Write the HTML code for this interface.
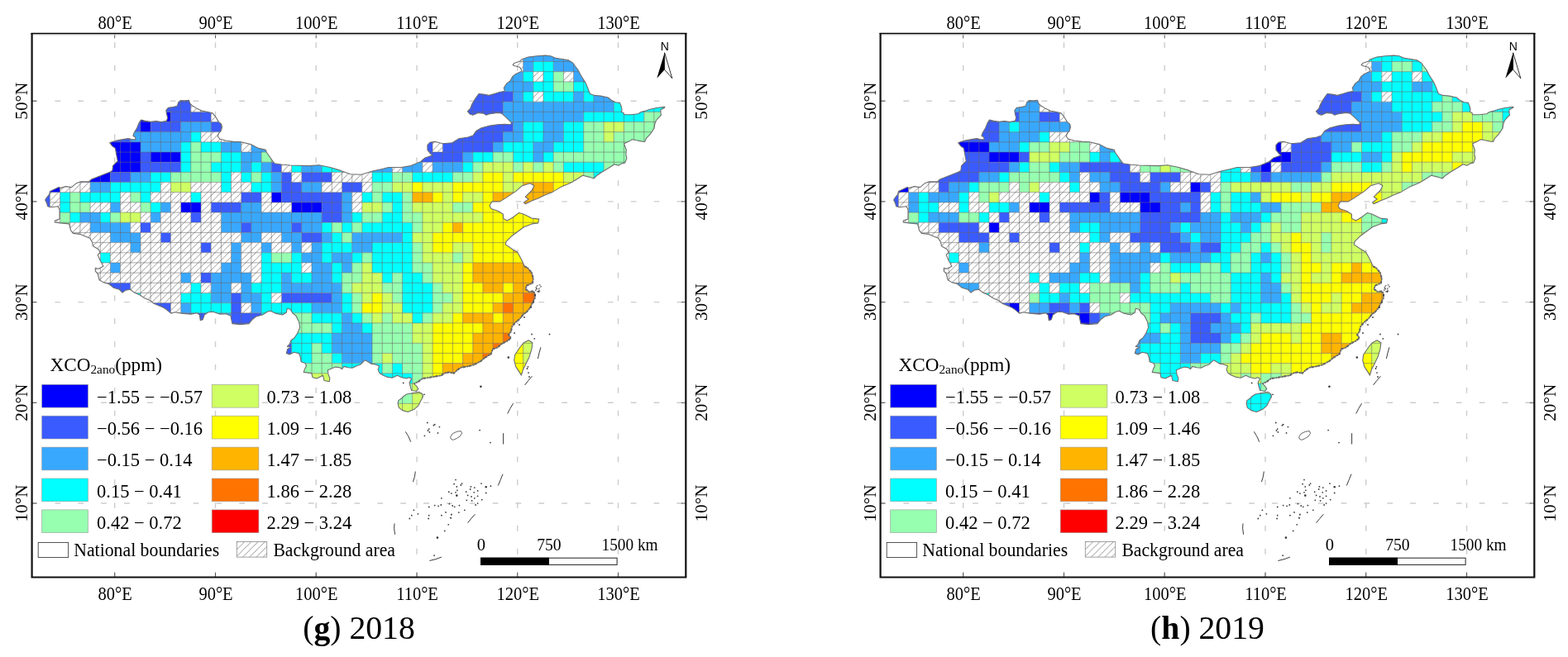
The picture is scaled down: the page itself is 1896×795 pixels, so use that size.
<!DOCTYPE html>
<html lang="en"><head><meta charset="utf-8"><title>XCO2 anomaly maps 2018-2019</title>
<style>
html,body{margin:0;padding:0;background:#fff}
body{width:1896px;height:795px;overflow:hidden;position:relative;font-family:"Liberation Serif","Times New Roman",serif;color:#000}
svg{position:absolute;left:0;top:0}
text{font-family:"Liberation Serif","Times New Roman",serif;fill:#000}
.t{font-size:22.4px}
.v{font-size:21.2px}
.l{font-size:22.5px}
.s{font-size:20.5px}
.c{font-size:39.7px}
.n{font-family:"Liberation Sans",Arial,sans-serif;font-size:14px}
</style></head><body>
<svg width="1896" height="795" viewBox="0 0 1896 795">
<defs>
<pattern id="hatch" patternUnits="userSpaceOnUse" width="8.2" height="8.2"><rect width="8.2" height="8.2" fill="#fff"/><path d="M-1 9.2L9.2 -1M-1 1L1 -1M7.2 9.2L9.2 7.2" stroke="#777" stroke-width="0.8" fill="none"/></pattern>
<clipPath id="clip"><path d="M132.6 172.7L139.7 170.2L147.4 168.9L155.1 167.6L159.6 168.9L164.1 168.9L163.5 165.7L160.9 164.4L162.2 160.5L165.4 155.4L168 148.9L170.5 145.1L175.7 146.4L182.1 147.4L188.6 146.6L195 147.6L201.4 146.4L202.7 142.5L201.4 137.3L200.8 133.5L203.4 130.3L209.2 129.6L214.3 128.3L215.6 123.8L218.2 121.6L223.3 121.9L228.5 121.3L229.7 125.1L232.3 127.7L237.5 130.9L243.9 134.1L250.3 135.4L256.8 136.7L260.6 141.2L264.5 147.6L267.7 150.2L268.4 154.1L267.1 158.6L264.5 161.2L263.2 165L265.8 168.2L273.5 170.2L282.5 171.4L291.5 171.7L303 174.6L312.7 179.4L321.3 181.4L322.3 184.3L329 193.9L331.9 197.7L341.5 199.3L351.2 200L374.3 200.6L385.8 199.7L399.3 202.5L412 206.4L423.6 210.8L437 211.2L450.5 207L462.1 204.5L469.8 202.5L485.2 202.5L496.7 200.6L508.3 195.8L514 191L522.7 188.1L519.8 185.2L516.9 181.4L516.9 175.6L519.8 172.3L525.6 171.2L535.2 173.7L546.8 172.7L554.5 167.9L566 166L571.9 164.1L575.7 158.5L582.2 154.7L592.5 152.1L601.5 150.8L610.5 150.2L616.9 150.8L618.8 148.9L615.6 145.6L611.8 141.8L606.6 137.3L601.5 136.4L596.3 137.3L591.2 137.9L588 139.2L584.7 137.3L578.3 136.6L571.9 139.2L568 137.9L565.4 134.7L568.7 131.5L570.6 126.3L574.4 119.9L578.9 113.5L584.7 114.1L591.2 115.4L597.6 113.5L604 111.5L610.5 110.3L609.2 106.4L613.1 100.6L616.9 98L619.5 92.9L623.3 89.7L629.1 87.1L631.1 85.8L628.5 81.3L623.3 80L620.1 78.7L622.1 76.2L628.5 74.2L631.1 71.7L638.8 69.1L649.1 67.8L659.4 67.1L665.8 67.8L672.2 70.4L681.3 71.7L687.7 72.9L692.8 76.2L695.4 80L699.3 85.2L701.8 90.3L705.1 95.5L708.3 100.6L710.9 107L713.4 113.5L718.6 115.4L726.3 116.1L735.3 118L739.2 121.2L744.3 123.8L749.5 124.4L750.8 127.6L752 132.1L751.4 135.4L754 136.6L754.6 138.8L762.9 138.8L771.7 137.7L775.1 135.5L779.5 134.4L786.1 132.2L793.9 130.5L803.9 129.4L803.3 130.5L798.9 132.7L798.9 136L799.4 139.4L796.1 142.7L793.3 146L791.7 150.4L791.1 154.9L788.4 159.3L785 163.7L781.7 167.1L779.5 171.5L775.1 170.9L769.5 169.8L764.5 168.7L761.8 170.4L758.4 172L754.6 173.7L755.7 177L757.3 181.5L756.8 187L757.9 191.4L755.7 197L751.2 198.1L747.9 200.3L743.1 198.7L737.3 202.5L727.7 208.3L721.9 212.2L718.1 216L712.3 214.1L704.6 212.2L698.8 216L691.1 220.8L677.7 226.6L668 232.4L658.4 236.2L650.7 240.1L643 243L635.3 246.8L633.4 244.9L639.2 241L635.3 238.2L643 230.5L645.9 224.7L641.1 221.8L631.5 224.7L623.8 231.4L612.2 239.1L604.5 243.9L594.9 243.9L592 248.7L593.9 252.6L602.6 255.5L608.4 259.3L608.4 264.1L613.2 267L619.9 263.2L627.6 257.4L633.4 259.3L643 264.1L651.7 265.1L650.7 269.9L643 270.9L633.4 274.7L625.7 280.5L618 286.3L612.2 292.1L611.2 295.9L619.9 301.7L625.6 305L630.4 313.7L634.3 322.3L638.1 324.3L642.9 330L644.8 336.8L643.9 342.5L637.1 345.4L635.2 349.7L640 353.1L644.8 352.4L647 355.4L646.8 360.8L643.9 366.6L641 372.4L637.1 377.2L632.3 381L628.5 385.9L623.7 389.7L618.9 395.5L617.9 401.3L615 405.1L617.9 409L613.1 412.8L607.3 415.7L601.5 420.5L595.8 422.4L593.8 428.2L586.1 433L580.4 437.8L580 437.7L572.9 441.5L565.3 443.4L557.7 444.7L552.7 447.8L548.9 451.6L542.5 450.4L537.5 451.6L533.7 454.2L527.3 455.4L519.7 456.7L510.9 458L505.8 461.8L500.8 464.3L503.3 466.8L505.8 470.6L503.3 473.2L497.6 472.5L496.3 468.1L495.1 463L497.6 458L494.4 456.7L491.9 458L485.6 456.7L480.5 454.2L474.2 457.3L467.8 456.1L463.4 454.2L459 451.6L457.1 447.2L458.4 442.8L453.9 440.9L448.9 440.3L445.1 437.7L441.3 435.8L436.2 440.9L431.1 442.8L426.1 445.3L421 444.7L415.9 443.4L413.4 446.6L410.9 444.7L405.8 444.1L400.8 445.9L396.3 447.8L397 452.9L398.9 458L398.2 461.8L391.9 460.5L390.6 454.2L388.1 455.4L383 458L378 456.7L376.7 451.6L367.2 450.4L368.5 446.6L370.4 442.8L369.1 439.6L364.1 437.7L363.4 432.7L361.5 427.6L355.2 426.3L350.1 428.9L346.3 427.6L347.6 422.5L352 420L347.2 419.5L350.1 416.7L352 411.8L355.9 409L359.7 403.2L362.6 396.4L361.7 389.7L357.8 382L354 379.1L351.1 374.3L347.2 373.3L346.3 378.2L341.5 381L332.8 379.1L327 376.2L323.2 377.2L317.4 381L309.7 383L304.9 386.8L301 391.6L290.4 392.6L280.8 391.6L278.9 382L273.1 379.7L265.4 380.1L257.7 377.2L251.9 377.8L247.1 381L245.2 386.8L242.3 387.8L241.3 381L238.5 378.7L230.8 380.1L219.2 379.1L211.5 377.8L206.7 379.1L200.9 374.3L196.1 371.4L186.5 367.6L181.7 363.7L174.9 360.8L169.2 357L162.4 354.1L157.6 350.2L151.8 351.2L148 354.1L144.1 350.2L137.4 348.3L131.6 343.5L124.9 341.6L120.1 338.7L118.1 331L115.3 328.1L115.3 324.3L119.1 325.2L124.9 322.3L123 318.5L121.1 315.2L118.2 308.4L121.1 305.5L119.2 301.7L112.5 297.8L111.5 293L108.6 288.2L97.1 283.4L88.4 282.4L85.5 278.6L83.6 270.9L73 269.9L66.3 269L66.3 267L72 265.1L72 253.6L70.1 249.7L61.4 250.7L57.6 249.7L56.6 245.9L54.7 242L55.7 240.1L59.5 235.3L60.5 231.4L71.1 226.6L73 227.6L79.7 225.6L86.5 226.6L92.2 221.8L97.1 219.9L107.6 219.9L110.5 217L132.7 208.3L135.9 206.4L136.5 200.6L142.3 194.8L141.3 190L139.4 179.4L135.6 176.6L132.7 172.7ZM639.1 411.8L643.9 414.7L642.9 422.4L640 432.1L635.2 441.7L632.3 447.5L630.4 454.2L627.5 449.4L623.7 443.6L621.7 435.9L622.7 429.2L628.5 420.5L633.3 414.7ZM491.9 477L498.2 475.7L507.1 474.4L510.9 477L511.5 480.1L509 484.6L505.8 490.9L500.8 495.3L493.2 498.5L486.8 496.6L482.4 493.4L481.1 488.4L481.8 484.6L485.6 482L488.1 479.5Z"/></clipPath>
<path id="outline" d="M132.6 172.7L139.7 170.2L147.4 168.9L155.1 167.6L159.6 168.9L164.1 168.9L163.5 165.7L160.9 164.4L162.2 160.5L165.4 155.4L168 148.9L170.5 145.1L175.7 146.4L182.1 147.4L188.6 146.6L195 147.6L201.4 146.4L202.7 142.5L201.4 137.3L200.8 133.5L203.4 130.3L209.2 129.6L214.3 128.3L215.6 123.8L218.2 121.6L223.3 121.9L228.5 121.3L229.7 125.1L232.3 127.7L237.5 130.9L243.9 134.1L250.3 135.4L256.8 136.7L260.6 141.2L264.5 147.6L267.7 150.2L268.4 154.1L267.1 158.6L264.5 161.2L263.2 165L265.8 168.2L273.5 170.2L282.5 171.4L291.5 171.7L303 174.6L312.7 179.4L321.3 181.4L322.3 184.3L329 193.9L331.9 197.7L341.5 199.3L351.2 200L374.3 200.6L385.8 199.7L399.3 202.5L412 206.4L423.6 210.8L437 211.2L450.5 207L462.1 204.5L469.8 202.5L485.2 202.5L496.7 200.6L508.3 195.8L514 191L522.7 188.1L519.8 185.2L516.9 181.4L516.9 175.6L519.8 172.3L525.6 171.2L535.2 173.7L546.8 172.7L554.5 167.9L566 166L571.9 164.1L575.7 158.5L582.2 154.7L592.5 152.1L601.5 150.8L610.5 150.2L616.9 150.8L618.8 148.9L615.6 145.6L611.8 141.8L606.6 137.3L601.5 136.4L596.3 137.3L591.2 137.9L588 139.2L584.7 137.3L578.3 136.6L571.9 139.2L568 137.9L565.4 134.7L568.7 131.5L570.6 126.3L574.4 119.9L578.9 113.5L584.7 114.1L591.2 115.4L597.6 113.5L604 111.5L610.5 110.3L609.2 106.4L613.1 100.6L616.9 98L619.5 92.9L623.3 89.7L629.1 87.1L631.1 85.8L628.5 81.3L623.3 80L620.1 78.7L622.1 76.2L628.5 74.2L631.1 71.7L638.8 69.1L649.1 67.8L659.4 67.1L665.8 67.8L672.2 70.4L681.3 71.7L687.7 72.9L692.8 76.2L695.4 80L699.3 85.2L701.8 90.3L705.1 95.5L708.3 100.6L710.9 107L713.4 113.5L718.6 115.4L726.3 116.1L735.3 118L739.2 121.2L744.3 123.8L749.5 124.4L750.8 127.6L752 132.1L751.4 135.4L754 136.6L754.6 138.8L762.9 138.8L771.7 137.7L775.1 135.5L779.5 134.4L786.1 132.2L793.9 130.5L803.9 129.4L803.3 130.5L798.9 132.7L798.9 136L799.4 139.4L796.1 142.7L793.3 146L791.7 150.4L791.1 154.9L788.4 159.3L785 163.7L781.7 167.1L779.5 171.5L775.1 170.9L769.5 169.8L764.5 168.7L761.8 170.4L758.4 172L754.6 173.7L755.7 177L757.3 181.5L756.8 187L757.9 191.4L755.7 197L751.2 198.1L747.9 200.3L743.1 198.7L737.3 202.5L727.7 208.3L721.9 212.2L718.1 216L712.3 214.1L704.6 212.2L698.8 216L691.1 220.8L677.7 226.6L668 232.4L658.4 236.2L650.7 240.1L643 243L635.3 246.8L633.4 244.9L639.2 241L635.3 238.2L643 230.5L645.9 224.7L641.1 221.8L631.5 224.7L623.8 231.4L612.2 239.1L604.5 243.9L594.9 243.9L592 248.7L593.9 252.6L602.6 255.5L608.4 259.3L608.4 264.1L613.2 267L619.9 263.2L627.6 257.4L633.4 259.3L643 264.1L651.7 265.1L650.7 269.9L643 270.9L633.4 274.7L625.7 280.5L618 286.3L612.2 292.1L611.2 295.9L619.9 301.7L625.6 305L630.4 313.7L634.3 322.3L638.1 324.3L642.9 330L644.8 336.8L643.9 342.5L637.1 345.4L635.2 349.7L640 353.1L644.8 352.4L647 355.4L646.8 360.8L643.9 366.6L641 372.4L637.1 377.2L632.3 381L628.5 385.9L623.7 389.7L618.9 395.5L617.9 401.3L615 405.1L617.9 409L613.1 412.8L607.3 415.7L601.5 420.5L595.8 422.4L593.8 428.2L586.1 433L580.4 437.8L580 437.7L572.9 441.5L565.3 443.4L557.7 444.7L552.7 447.8L548.9 451.6L542.5 450.4L537.5 451.6L533.7 454.2L527.3 455.4L519.7 456.7L510.9 458L505.8 461.8L500.8 464.3L503.3 466.8L505.8 470.6L503.3 473.2L497.6 472.5L496.3 468.1L495.1 463L497.6 458L494.4 456.7L491.9 458L485.6 456.7L480.5 454.2L474.2 457.3L467.8 456.1L463.4 454.2L459 451.6L457.1 447.2L458.4 442.8L453.9 440.9L448.9 440.3L445.1 437.7L441.3 435.8L436.2 440.9L431.1 442.8L426.1 445.3L421 444.7L415.9 443.4L413.4 446.6L410.9 444.7L405.8 444.1L400.8 445.9L396.3 447.8L397 452.9L398.9 458L398.2 461.8L391.9 460.5L390.6 454.2L388.1 455.4L383 458L378 456.7L376.7 451.6L367.2 450.4L368.5 446.6L370.4 442.8L369.1 439.6L364.1 437.7L363.4 432.7L361.5 427.6L355.2 426.3L350.1 428.9L346.3 427.6L347.6 422.5L352 420L347.2 419.5L350.1 416.7L352 411.8L355.9 409L359.7 403.2L362.6 396.4L361.7 389.7L357.8 382L354 379.1L351.1 374.3L347.2 373.3L346.3 378.2L341.5 381L332.8 379.1L327 376.2L323.2 377.2L317.4 381L309.7 383L304.9 386.8L301 391.6L290.4 392.6L280.8 391.6L278.9 382L273.1 379.7L265.4 380.1L257.7 377.2L251.9 377.8L247.1 381L245.2 386.8L242.3 387.8L241.3 381L238.5 378.7L230.8 380.1L219.2 379.1L211.5 377.8L206.7 379.1L200.9 374.3L196.1 371.4L186.5 367.6L181.7 363.7L174.9 360.8L169.2 357L162.4 354.1L157.6 350.2L151.8 351.2L148 354.1L144.1 350.2L137.4 348.3L131.6 343.5L124.9 341.6L120.1 338.7L118.1 331L115.3 328.1L115.3 324.3L119.1 325.2L124.9 322.3L123 318.5L121.1 315.2L118.2 308.4L121.1 305.5L119.2 301.7L112.5 297.8L111.5 293L108.6 288.2L97.1 283.4L88.4 282.4L85.5 278.6L83.6 270.9L73 269.9L66.3 269L66.3 267L72 265.1L72 253.6L70.1 249.7L61.4 250.7L57.6 249.7L56.6 245.9L54.7 242L55.7 240.1L59.5 235.3L60.5 231.4L71.1 226.6L73 227.6L79.7 225.6L86.5 226.6L92.2 221.8L97.1 219.9L107.6 219.9L110.5 217L132.7 208.3L135.9 206.4L136.5 200.6L142.3 194.8L141.3 190L139.4 179.4L135.6 176.6L132.7 172.7ZM639.1 411.8L643.9 414.7L642.9 422.4L640 432.1L635.2 441.7L632.3 447.5L630.4 454.2L627.5 449.4L623.7 443.6L621.7 435.9L622.7 429.2L628.5 420.5L633.3 414.7ZM491.9 477L498.2 475.7L507.1 474.4L510.9 477L511.5 480.1L509 484.6L505.8 490.9L500.8 495.3L493.2 498.5L486.8 496.6L482.4 493.4L481.1 488.4L481.8 484.6L485.6 482L488.1 479.5Z" fill="none" stroke="#6e6e6e" stroke-width="1.1" stroke-linejoin="round"/>
<g id="rough"><path d="M634.3 322.3L638.1 324.3L642.9 330L644.8 336.8L643.9 342.5L637.1 345.4L635.2 349.7L640 353.1L644.8 352.4L647 355.4L646.8 360.8L643.9 366.6L641 372.4L637.1 377.2L632.3 381L628.5 385.9L623.7 389.7L618.9 395.5L617.9 401.3L615 405.1L617.9 409L613.1 412.8L607.3 415.7L601.5 420.5L595.8 422.4L593.8 428.2L586.1 433L580.4 437.8L580 437.7L572.9 441.5L565.3 443.4L557.7 444.7L552.7 447.8L548.9 451.6L542.5 450.4L537.5 451.6L533.7 454.2L527.3 455.4L519.7 456.7L510.9 458L505.8 461.8L500.8 464.3" fill="none" stroke="#666" stroke-width="2.1" stroke-dasharray="3 1.2 1.2 2" stroke-linejoin="round"/><path d="M648.7 346.4L651.6 344.5L654.5 345.4L653.5 348.3L650.6 349.7L652.5 352.2L648.7 353.1L647.4 350.8Z" fill="none" stroke="#666" stroke-width="1.2" stroke-dasharray="2 1.5"/></g>
</defs>
<rect width="1896" height="795" fill="#fff"/>
<g transform="translate(0 0)">
<path d="M138.7 698.5V40.8M260.5 698.5V40.8M382.2 698.5V40.8M504 698.5V40.8M625.7 698.5V40.8M747.5 698.5V40.8" fill="none" stroke="#cdcdcd" stroke-width="1.4" stroke-dasharray="6.8 21.05"/>
<path d="M38.6 609H829.3M38.6 487.3H829.3M38.6 365.6H829.3M38.6 243.9H829.3M38.6 122.2H829.3" fill="none" stroke="#cdcdcd" stroke-width="1.4" stroke-dasharray="6.8 21.05"/>
<g clip-path="url(#clip)">
<path d="M218.7 244.9h24.4v12.2h-24.4zM352.6 244.9h36.5v12.2h-36.5zM328.2 232.7h12.2v12.2h-12.2zM36 220.6h36.5v12.2h-36.5zM48.2 208.4h24.4v12.2h-24.4zM96.9 208.4h36.5v12.2h-36.5zM60.4 196.2h12.2v12.2h-12.2zM96.9 196.2h73.1v12.2h-73.1zM109.1 184.1h60.9v12.2h-60.9zM182.1 184.1h36.5v12.2h-36.5zM109.1 171.9h60.9v12.2h-60.9zM170 147.5h12.2v12.2h-12.2zM170 135.4h36.5v12.2h-36.5z" fill="#0000ff"/>
<path d="M340.4 439.6h12.2v12.2h-12.2zM328.2 427.4h24.4v12.2h-24.4zM316.1 415.3h36.5v12.2h-36.5zM218.7 403.1h36.5v12.2h-36.5zM279.5 403.1h36.5v12.2h-36.5zM182.1 390.9h24.4v12.2h-24.4zM218.7 390.9h36.5v12.2h-36.5zM279.5 390.9h36.5v12.2h-36.5zM182.1 378.8h24.4v12.2h-24.4zM218.7 378.8h36.5v12.2h-36.5zM279.5 378.8h36.5v12.2h-36.5zM121.3 366.6h36.5v12.2h-36.5zM182.1 366.6h24.4v12.2h-24.4zM279.5 366.6h12.2v12.2h-12.2zM121.3 354.4h36.5v12.2h-36.5zM279.5 354.4h12.2v12.2h-12.2zM340.4 354.4h60.9v12.2h-60.9zM121.3 342.3h36.5v12.2h-36.5zM243 330.1h12.2v12.2h-12.2zM243 293.6h12.2v12.2h-12.2zM194.3 281.4h12.2v12.2h-12.2zM364.8 281.4h24.4v12.2h-24.4zM170 269.2h12.2v12.2h-12.2zM291.7 269.2h12.2v12.2h-12.2zM352.6 269.2h12.2v12.2h-12.2zM48.2 257.1h12.2v12.2h-12.2zM230.8 257.1h12.2v12.2h-12.2zM389.1 257.1h24.4v12.2h-24.4zM36 244.9h24.4v12.2h-24.4zM255.2 244.9h36.5v12.2h-36.5zM389.1 244.9h24.4v12.2h-24.4zM23.8 232.7h36.5v12.2h-36.5zM291.7 232.7h24.4v12.2h-24.4zM340.4 232.7h73.1v12.2h-73.1zM340.4 220.6h24.4v12.2h-24.4zM413.5 220.6h24.4v12.2h-24.4zM133.4 208.4h24.4v12.2h-24.4zM340.4 208.4h12.2v12.2h-12.2zM364.8 208.4h36.5v12.2h-36.5zM170 196.2h48.7v12.2h-48.7zM328.2 196.2h12.2v12.2h-12.2zM170 184.1h12.2v12.2h-12.2zM498.7 184.1h60.9v12.2h-60.9zM486.5 171.9h36.5v12.2h-36.5zM535.2 171.9h60.9v12.2h-60.9zM109.1 159.7h48.7v12.2h-48.7zM498.7 159.7h24.4v12.2h-24.4zM535.2 159.7h73.1v12.2h-73.1zM121.3 147.5h48.7v12.2h-48.7zM182.1 147.5h36.5v12.2h-36.5zM255.2 147.5h36.5v12.2h-36.5zM510.9 147.5h12.2v12.2h-12.2zM535.2 147.5h85.2v12.2h-85.2zM133.4 135.4h36.5v12.2h-36.5zM206.5 135.4h48.7v12.2h-48.7zM535.2 135.4h73.1v12.2h-73.1zM157.8 123.2h73.1v12.2h-73.1zM535.2 123.2h73.1v12.2h-73.1zM182.1 111h48.7v12.2h-48.7zM547.4 111h73.1v12.2h-73.1zM194.3 98.9h36.5v12.2h-36.5zM559.6 98.9h36.5v12.2h-36.5zM571.8 86.7h12.2v12.2h-12.2z" fill="#3a5bff"/>
<path d="M437.8 464h12.2v12.2h-12.2zM437.8 451.8h12.2v12.2h-12.2zM437.8 439.6h12.2v12.2h-12.2zM413.5 427.4h36.5v12.2h-36.5zM401.3 415.3h48.7v12.2h-48.7zM255.2 403.1h24.4v12.2h-24.4zM401.3 403.1h48.7v12.2h-48.7zM255.2 390.9h24.4v12.2h-24.4zM413.5 390.9h24.4v12.2h-24.4zM255.2 378.8h24.4v12.2h-24.4zM413.5 378.8h12.2v12.2h-12.2zM218.7 366.6h12.2v12.2h-12.2zM303.9 366.6h12.2v12.2h-12.2zM377 366.6h36.5v12.2h-36.5zM255.2 354.4h24.4v12.2h-24.4zM291.7 354.4h24.4v12.2h-24.4zM401.3 354.4h12.2v12.2h-12.2zM255.2 342.3h24.4v12.2h-24.4zM291.7 342.3h12.2v12.2h-12.2zM340.4 342.3h73.1v12.2h-73.1zM218.7 330.1h12.2v12.2h-12.2zM255.2 330.1h48.7v12.2h-48.7zM340.4 330.1h12.2v12.2h-12.2zM377 330.1h24.4v12.2h-24.4zM133.4 317.9h12.2v12.2h-12.2zM267.4 317.9h24.4v12.2h-24.4zM377 317.9h24.4v12.2h-24.4zM413.5 317.9h12.2v12.2h-12.2zM279.5 305.8h12.2v12.2h-12.2zM364.8 305.8h24.4v12.2h-24.4zM401.3 305.8h24.4v12.2h-24.4zM157.8 293.6h12.2v12.2h-12.2zM279.5 293.6h12.2v12.2h-12.2zM316.1 293.6h12.2v12.2h-12.2zM352.6 293.6h12.2v12.2h-12.2zM377 293.6h12.2v12.2h-12.2zM425.7 293.6h24.4v12.2h-24.4zM133.4 281.4h36.5v12.2h-36.5zM291.7 281.4h24.4v12.2h-24.4zM340.4 281.4h24.4v12.2h-24.4zM389.1 281.4h12.2v12.2h-12.2zM425.7 281.4h60.9v12.2h-60.9zM109.1 269.2h48.7v12.2h-48.7zM267.4 269.2h24.4v12.2h-24.4zM303.9 269.2h48.7v12.2h-48.7zM364.8 269.2h24.4v12.2h-24.4zM96.9 257.1h24.4v12.2h-24.4zM182.1 257.1h12.2v12.2h-12.2zM267.4 257.1h121.8v12.2h-121.8zM413.5 257.1h12.2v12.2h-12.2zM133.4 244.9h12.2v12.2h-12.2zM194.3 244.9h12.2v12.2h-12.2zM291.7 244.9h24.4v12.2h-24.4zM413.5 244.9h12.2v12.2h-12.2zM413.5 232.7h12.2v12.2h-12.2zM109.1 220.6h24.4v12.2h-24.4zM328.2 220.6h12.2v12.2h-12.2zM364.8 220.6h24.4v12.2h-24.4zM157.8 208.4h24.4v12.2h-24.4zM328.2 208.4h12.2v12.2h-12.2zM291.7 196.2h12.2v12.2h-12.2zM316.1 196.2h12.2v12.2h-12.2zM364.8 196.2h24.4v12.2h-24.4zM450 196.2h24.4v12.2h-24.4zM486.5 196.2h24.4v12.2h-24.4zM523.1 196.2h36.5v12.2h-36.5zM291.7 184.1h24.4v12.2h-24.4zM364.8 184.1h24.4v12.2h-24.4zM450 184.1h24.4v12.2h-24.4zM486.5 184.1h12.2v12.2h-12.2zM559.6 184.1h12.2v12.2h-12.2zM644.8 184.1h12.2v12.2h-12.2zM170 171.9h48.7v12.2h-48.7zM267.4 171.9h24.4v12.2h-24.4zM303.9 171.9h36.5v12.2h-36.5zM364.8 171.9h24.4v12.2h-24.4zM450 171.9h24.4v12.2h-24.4zM596.1 171.9h12.2v12.2h-12.2zM644.8 171.9h24.4v12.2h-24.4zM157.8 159.7h73.1v12.2h-73.1zM279.5 159.7h12.2v12.2h-12.2zM303.9 159.7h24.4v12.2h-24.4zM608.3 159.7h24.4v12.2h-24.4zM657 159.7h24.4v12.2h-24.4zM218.7 147.5h36.5v12.2h-36.5zM303.9 147.5h12.2v12.2h-12.2zM620.5 147.5h12.2v12.2h-12.2zM657 147.5h24.4v12.2h-24.4zM608.3 135.4h97.4v12.2h-97.4zM608.3 123.2h133.9v12.2h-133.9zM620.5 111h12.2v12.2h-12.2zM693.5 111h12.2v12.2h-12.2zM717.9 111h36.5v12.2h-36.5zM596.1 98.9h48.7v12.2h-48.7zM730.1 98.9h24.4v12.2h-24.4zM583.9 86.7h48.7v12.2h-48.7zM693.5 86.7h48.7v12.2h-48.7zM632.6 74.5h12.2v12.2h-12.2zM669.2 74.5h60.9v12.2h-60.9zM632.6 62.4h85.2v12.2h-85.2zM632.6 50.2h73.1v12.2h-73.1zM632.6 38h60.9v12.2h-60.9z" fill="#38a8ff"/>
<path d="M450 476.1h12.2v12.2h-12.2zM413.5 464h24.4v12.2h-24.4zM450 464h36.5v12.2h-36.5zM352.6 451.8h12.2v12.2h-12.2zM413.5 451.8h24.4v12.2h-24.4zM450 451.8h48.7v12.2h-48.7zM352.6 439.6h12.2v12.2h-12.2zM413.5 439.6h24.4v12.2h-24.4zM450 439.6h12.2v12.2h-12.2zM474.4 439.6h12.2v12.2h-12.2zM352.6 427.4h24.4v12.2h-24.4zM401.3 427.4h12.2v12.2h-12.2zM352.6 415.3h24.4v12.2h-24.4zM389.1 415.3h12.2v12.2h-12.2zM316.1 403.1h85.2v12.2h-85.2zM316.1 390.9h36.5v12.2h-36.5zM401.3 390.9h12.2v12.2h-12.2zM437.8 390.9h12.2v12.2h-12.2zM157.8 378.8h12.2v12.2h-12.2zM316.1 378.8h36.5v12.2h-36.5zM377 378.8h36.5v12.2h-36.5zM425.7 378.8h12.2v12.2h-12.2zM498.7 378.8h12.2v12.2h-12.2zM157.8 366.6h12.2v12.2h-12.2zM230.8 366.6h48.7v12.2h-48.7zM316.1 366.6h60.9v12.2h-60.9zM413.5 366.6h12.2v12.2h-12.2zM486.5 366.6h36.5v12.2h-36.5zM157.8 354.4h12.2v12.2h-12.2zM218.7 354.4h36.5v12.2h-36.5zM316.1 354.4h12.2v12.2h-12.2zM413.5 354.4h12.2v12.2h-12.2zM486.5 354.4h36.5v12.2h-36.5zM230.8 342.3h12.2v12.2h-12.2zM303.9 342.3h36.5v12.2h-36.5zM486.5 342.3h36.5v12.2h-36.5zM316.1 330.1h24.4v12.2h-24.4zM352.6 330.1h24.4v12.2h-24.4zM401.3 330.1h12.2v12.2h-12.2zM462.2 330.1h12.2v12.2h-12.2zM486.5 330.1h24.4v12.2h-24.4zM316.1 317.9h48.7v12.2h-48.7zM401.3 317.9h12.2v12.2h-12.2zM450 317.9h48.7v12.2h-48.7zM121.3 305.8h12.2v12.2h-12.2zM316.1 305.8h12.2v12.2h-12.2zM352.6 305.8h12.2v12.2h-12.2zM389.1 305.8h12.2v12.2h-12.2zM425.7 305.8h12.2v12.2h-12.2zM450 305.8h48.7v12.2h-48.7zM389.1 293.6h36.5v12.2h-36.5zM450 293.6h48.7v12.2h-48.7zM401.3 281.4h12.2v12.2h-12.2zM486.5 281.4h12.2v12.2h-12.2zM389.1 269.2h12.2v12.2h-12.2zM413.5 269.2h12.2v12.2h-12.2zM437.8 269.2h60.9v12.2h-60.9zM84.7 257.1h12.2v12.2h-12.2zM121.3 257.1h12.2v12.2h-12.2zM425.7 257.1h12.2v12.2h-12.2zM462.2 257.1h24.4v12.2h-24.4zM72.6 244.9h12.2v12.2h-12.2zM182.1 244.9h12.2v12.2h-12.2zM474.4 244.9h12.2v12.2h-12.2zM72.6 232.7h12.2v12.2h-12.2zM96.9 232.7h48.7v12.2h-48.7zM170 232.7h12.2v12.2h-12.2zM230.8 232.7h12.2v12.2h-12.2zM437.8 232.7h12.2v12.2h-12.2zM462.2 232.7h24.4v12.2h-24.4zM717.9 232.7h12.2v12.2h-12.2zM133.4 220.6h60.9v12.2h-60.9zM267.4 220.6h12.2v12.2h-12.2zM303.9 220.6h24.4v12.2h-24.4zM717.9 220.6h12.2v12.2h-12.2zM182.1 208.4h24.4v12.2h-24.4zM267.4 208.4h12.2v12.2h-12.2zM291.7 208.4h12.2v12.2h-12.2zM316.1 208.4h12.2v12.2h-12.2zM450 208.4h24.4v12.2h-24.4zM498.7 208.4h48.7v12.2h-48.7zM717.9 208.4h12.2v12.2h-12.2zM218.7 196.2h12.2v12.2h-12.2zM255.2 196.2h36.5v12.2h-36.5zM303.9 196.2h12.2v12.2h-12.2zM352.6 196.2h12.2v12.2h-12.2zM389.1 196.2h24.4v12.2h-24.4zM559.6 196.2h12.2v12.2h-12.2zM681.4 196.2h48.7v12.2h-48.7zM218.7 184.1h12.2v12.2h-12.2zM267.4 184.1h24.4v12.2h-24.4zM352.6 184.1h12.2v12.2h-12.2zM389.1 184.1h24.4v12.2h-24.4zM571.8 184.1h24.4v12.2h-24.4zM620.5 184.1h24.4v12.2h-24.4zM657 184.1h12.2v12.2h-12.2zM218.7 171.9h12.2v12.2h-12.2zM243 171.9h24.4v12.2h-24.4zM352.6 171.9h12.2v12.2h-12.2zM389.1 171.9h24.4v12.2h-24.4zM608.3 171.9h36.5v12.2h-36.5zM669.2 171.9h36.5v12.2h-36.5zM230.8 159.7h12.2v12.2h-12.2zM632.6 159.7h24.4v12.2h-24.4zM681.4 159.7h24.4v12.2h-24.4zM632.6 147.5h24.4v12.2h-24.4zM681.4 147.5h24.4v12.2h-24.4zM705.7 135.4h73.1v12.2h-73.1zM742.2 123.2h85.2v12.2h-85.2zM632.6 111h12.2v12.2h-12.2zM657 111h36.5v12.2h-36.5zM705.7 111h12.2v12.2h-12.2zM754.4 111h60.9v12.2h-60.9zM644.8 98.9h24.4v12.2h-24.4zM693.5 98.9h36.5v12.2h-36.5zM754.4 98.9h48.7v12.2h-48.7zM632.6 86.7h12.2v12.2h-12.2zM657 86.7h12.2v12.2h-12.2zM644.8 74.5h24.4v12.2h-24.4z" fill="#00ffff"/>
<path d="M462.2 476.1h36.5v12.2h-36.5zM364.8 464h12.2v12.2h-12.2zM401.3 464h12.2v12.2h-12.2zM486.5 464h12.2v12.2h-12.2zM364.8 451.8h12.2v12.2h-12.2zM401.3 451.8h12.2v12.2h-12.2zM498.7 451.8h12.2v12.2h-12.2zM364.8 439.6h48.7v12.2h-48.7zM462.2 439.6h12.2v12.2h-12.2zM486.5 439.6h24.4v12.2h-24.4zM377 427.4h24.4v12.2h-24.4zM450 427.4h12.2v12.2h-12.2zM474.4 427.4h36.5v12.2h-36.5zM377 415.3h12.2v12.2h-12.2zM450 415.3h60.9v12.2h-60.9zM450 403.1h48.7v12.2h-48.7zM352.6 390.9h48.7v12.2h-48.7zM450 390.9h48.7v12.2h-48.7zM352.6 378.8h24.4v12.2h-24.4zM437.8 378.8h12.2v12.2h-12.2zM462.2 378.8h12.2v12.2h-12.2zM510.9 378.8h12.2v12.2h-12.2zM425.7 366.6h12.2v12.2h-12.2zM523.1 366.6h12.2v12.2h-12.2zM425.7 354.4h12.2v12.2h-12.2zM474.4 354.4h12.2v12.2h-12.2zM523.1 354.4h24.4v12.2h-24.4zM413.5 342.3h12.2v12.2h-12.2zM462.2 342.3h24.4v12.2h-24.4zM523.1 342.3h12.2v12.2h-12.2zM413.5 330.1h24.4v12.2h-24.4zM474.4 330.1h12.2v12.2h-12.2zM510.9 330.1h12.2v12.2h-12.2zM425.7 317.9h12.2v12.2h-12.2zM498.7 317.9h24.4v12.2h-24.4zM328.2 305.8h24.4v12.2h-24.4zM437.8 305.8h12.2v12.2h-12.2zM498.7 305.8h12.2v12.2h-12.2zM547.4 305.8h12.2v12.2h-12.2zM72.6 293.6h12.2v12.2h-12.2zM498.7 293.6h12.2v12.2h-12.2zM60.4 281.4h24.4v12.2h-24.4zM413.5 281.4h12.2v12.2h-12.2zM48.2 269.2h36.5v12.2h-36.5zM401.3 269.2h12.2v12.2h-12.2zM425.7 269.2h12.2v12.2h-12.2zM498.7 269.2h12.2v12.2h-12.2zM72.6 257.1h12.2v12.2h-12.2zM133.4 257.1h12.2v12.2h-12.2zM437.8 257.1h24.4v12.2h-24.4zM486.5 257.1h24.4v12.2h-24.4zM84.7 244.9h24.4v12.2h-24.4zM170 244.9h12.2v12.2h-12.2zM462.2 244.9h12.2v12.2h-12.2zM486.5 244.9h12.2v12.2h-12.2zM547.4 244.9h24.4v12.2h-24.4zM84.7 232.7h12.2v12.2h-12.2zM157.8 232.7h12.2v12.2h-12.2zM450 232.7h12.2v12.2h-12.2zM486.5 232.7h12.2v12.2h-12.2zM705.7 232.7h12.2v12.2h-12.2zM450 220.6h24.4v12.2h-24.4zM705.7 220.6h12.2v12.2h-12.2zM730.1 220.6h24.4v12.2h-24.4zM206.5 208.4h60.9v12.2h-60.9zM303.9 208.4h12.2v12.2h-12.2zM474.4 208.4h24.4v12.2h-24.4zM547.4 208.4h24.4v12.2h-24.4zM705.7 208.4h12.2v12.2h-12.2zM730.1 208.4h36.5v12.2h-36.5zM230.8 196.2h24.4v12.2h-24.4zM571.8 196.2h12.2v12.2h-12.2zM620.5 196.2h12.2v12.2h-12.2zM644.8 196.2h12.2v12.2h-12.2zM669.2 196.2h12.2v12.2h-12.2zM730.1 196.2h48.7v12.2h-48.7zM230.8 184.1h36.5v12.2h-36.5zM316.1 184.1h24.4v12.2h-24.4zM596.1 184.1h24.4v12.2h-24.4zM669.2 184.1h121.8v12.2h-121.8zM230.8 171.9h12.2v12.2h-12.2zM705.7 171.9h97.4v12.2h-97.4zM705.7 159.7h24.4v12.2h-24.4zM742.2 159.7h73.1v12.2h-73.1zM705.7 147.5h24.4v12.2h-24.4zM754.4 147.5h73.1v12.2h-73.1zM778.8 135.4h60.9v12.2h-60.9zM669.2 98.9h24.4v12.2h-24.4zM669.2 86.7h12.2v12.2h-12.2z" fill="#96ffb0"/>
<path d="M474.4 512.6h36.5v12.2h-36.5zM462.2 500.5h60.9v12.2h-60.9zM450 488.3h85.2v12.2h-85.2zM377 476.1h24.4v12.2h-24.4zM498.7 476.1h24.4v12.2h-24.4zM377 464h24.4v12.2h-24.4zM498.7 464h24.4v12.2h-24.4zM377 451.8h24.4v12.2h-24.4zM510.9 451.8h12.2v12.2h-12.2zM510.9 439.6h12.2v12.2h-12.2zM462.2 427.4h12.2v12.2h-12.2zM510.9 427.4h12.2v12.2h-12.2zM632.6 427.4h36.5v12.2h-36.5zM510.9 415.3h12.2v12.2h-12.2zM632.6 415.3h36.5v12.2h-36.5zM498.7 403.1h24.4v12.2h-24.4zM620.5 403.1h48.7v12.2h-48.7zM498.7 390.9h24.4v12.2h-24.4zM632.6 390.9h24.4v12.2h-24.4zM450 378.8h12.2v12.2h-12.2zM474.4 378.8h24.4v12.2h-24.4zM523.1 378.8h24.4v12.2h-24.4zM462.2 366.6h24.4v12.2h-24.4zM535.2 366.6h24.4v12.2h-24.4zM437.8 354.4h12.2v12.2h-12.2zM462.2 354.4h12.2v12.2h-12.2zM547.4 354.4h12.2v12.2h-12.2zM425.7 342.3h36.5v12.2h-36.5zM535.2 342.3h24.4v12.2h-24.4zM437.8 330.1h24.4v12.2h-24.4zM523.1 330.1h36.5v12.2h-36.5zM437.8 317.9h12.2v12.2h-12.2zM523.1 317.9h36.5v12.2h-36.5zM510.9 305.8h36.5v12.2h-36.5zM559.6 305.8h12.2v12.2h-12.2zM510.9 293.6h12.2v12.2h-12.2zM547.4 293.6h24.4v12.2h-24.4zM498.7 281.4h24.4v12.2h-24.4zM510.9 269.2h24.4v12.2h-24.4zM145.6 257.1h24.4v12.2h-24.4zM510.9 257.1h73.1v12.2h-73.1zM437.8 244.9h24.4v12.2h-24.4zM498.7 244.9h48.7v12.2h-48.7zM535.2 232.7h12.2v12.2h-12.2zM559.6 232.7h24.4v12.2h-24.4zM693.5 232.7h12.2v12.2h-12.2zM206.5 220.6h24.4v12.2h-24.4zM474.4 220.6h24.4v12.2h-24.4zM510.9 220.6h36.5v12.2h-36.5zM608.3 220.6h24.4v12.2h-24.4zM693.5 220.6h12.2v12.2h-12.2zM571.8 208.4h12.2v12.2h-12.2zM608.3 208.4h12.2v12.2h-12.2zM681.4 208.4h24.4v12.2h-24.4zM583.9 196.2h36.5v12.2h-36.5zM632.6 196.2h12.2v12.2h-12.2zM657 196.2h12.2v12.2h-12.2zM730.1 159.7h12.2v12.2h-12.2zM730.1 147.5h24.4v12.2h-24.4z" fill="#cfff62"/>
<path d="M523.1 476.1h12.2v12.2h-12.2zM620.5 476.1h24.4v12.2h-24.4zM523.1 464h12.2v12.2h-12.2zM608.3 464h48.7v12.2h-48.7zM523.1 451.8h12.2v12.2h-12.2zM596.1 451.8h73.1v12.2h-73.1zM523.1 439.6h12.2v12.2h-12.2zM608.3 439.6h60.9v12.2h-60.9zM523.1 427.4h36.5v12.2h-36.5zM608.3 427.4h24.4v12.2h-24.4zM523.1 415.3h48.7v12.2h-48.7zM620.5 415.3h12.2v12.2h-12.2zM523.1 403.1h48.7v12.2h-48.7zM523.1 390.9h60.9v12.2h-60.9zM547.4 378.8h12.2v12.2h-12.2zM596.1 378.8h12.2v12.2h-12.2zM437.8 366.6h24.4v12.2h-24.4zM559.6 366.6h36.5v12.2h-36.5zM450 354.4h12.2v12.2h-12.2zM559.6 354.4h48.7v12.2h-48.7zM559.6 342.3h24.4v12.2h-24.4zM608.3 342.3h12.2v12.2h-12.2zM559.6 330.1h12.2v12.2h-12.2zM559.6 317.9h12.2v12.2h-12.2zM571.8 305.8h85.2v12.2h-85.2zM523.1 293.6h24.4v12.2h-24.4zM571.8 293.6h48.7v12.2h-48.7zM523.1 281.4h133.9v12.2h-133.9zM535.2 269.2h12.2v12.2h-12.2zM559.6 269.2h109.6v12.2h-109.6zM583.9 257.1h97.4v12.2h-97.4zM571.8 244.9h60.9v12.2h-60.9zM669.2 244.9h24.4v12.2h-24.4zM523.1 232.7h12.2v12.2h-12.2zM547.4 232.7h12.2v12.2h-12.2zM583.9 232.7h12.2v12.2h-12.2zM669.2 232.7h24.4v12.2h-24.4zM498.7 220.6h12.2v12.2h-12.2zM547.4 220.6h60.9v12.2h-60.9zM669.2 220.6h24.4v12.2h-24.4zM583.9 208.4h24.4v12.2h-24.4zM620.5 208.4h60.9v12.2h-60.9z" fill="#ffff00"/>
<path d="M535.2 476.1h12.2v12.2h-12.2zM535.2 464h48.7v12.2h-48.7zM535.2 451.8h48.7v12.2h-48.7zM535.2 439.6h48.7v12.2h-48.7zM559.6 427.4h24.4v12.2h-24.4zM571.8 415.3h24.4v12.2h-24.4zM571.8 403.1h36.5v12.2h-36.5zM583.9 390.9h48.7v12.2h-48.7zM559.6 378.8h36.5v12.2h-36.5zM608.3 378.8h48.7v12.2h-48.7zM596.1 366.6h12.2v12.2h-12.2zM620.5 366.6h48.7v12.2h-48.7zM608.3 354.4h24.4v12.2h-24.4zM583.9 342.3h24.4v12.2h-24.4zM620.5 342.3h48.7v12.2h-48.7zM571.8 330.1h97.4v12.2h-97.4zM571.8 317.9h97.4v12.2h-97.4zM620.5 293.6h36.5v12.2h-36.5zM547.4 269.2h12.2v12.2h-12.2zM632.6 244.9h36.5v12.2h-36.5zM498.7 232.7h24.4v12.2h-24.4zM596.1 232.7h73.1v12.2h-73.1zM632.6 220.6h36.5v12.2h-36.5z" fill="#ffb400"/>
<path d="M583.9 451.8h12.2v12.2h-12.2zM583.9 439.6h24.4v12.2h-24.4zM583.9 427.4h24.4v12.2h-24.4zM596.1 415.3h24.4v12.2h-24.4zM608.3 403.1h12.2v12.2h-12.2zM608.3 366.6h12.2v12.2h-12.2zM632.6 354.4h36.5v12.2h-36.5z" fill="#ff7300"/>
<path d="M206.5 390.9h12.2v12.2h-12.2zM170 378.8h12.2v12.2h-12.2zM206.5 378.8h12.2v12.2h-12.2zM170 366.6h12.2v12.2h-12.2zM206.5 366.6h12.2v12.2h-12.2zM291.7 366.6h12.2v12.2h-12.2zM109.1 354.4h12.2v12.2h-12.2zM170 354.4h48.7v12.2h-48.7zM328.2 354.4h12.2v12.2h-12.2zM96.9 342.3h24.4v12.2h-24.4zM157.8 342.3h73.1v12.2h-73.1zM243 342.3h12.2v12.2h-12.2zM279.5 342.3h12.2v12.2h-12.2zM84.7 330.1h133.9v12.2h-133.9zM230.8 330.1h12.2v12.2h-12.2zM303.9 330.1h12.2v12.2h-12.2zM84.7 317.9h48.7v12.2h-48.7zM145.6 317.9h121.8v12.2h-121.8zM291.7 317.9h24.4v12.2h-24.4zM364.8 317.9h12.2v12.2h-12.2zM96.9 305.8h24.4v12.2h-24.4zM133.4 305.8h146.1v12.2h-146.1zM291.7 305.8h24.4v12.2h-24.4zM84.7 293.6h73.1v12.2h-73.1zM170 293.6h73.1v12.2h-73.1zM255.2 293.6h24.4v12.2h-24.4zM291.7 293.6h24.4v12.2h-24.4zM328.2 293.6h24.4v12.2h-24.4zM364.8 293.6h12.2v12.2h-12.2zM84.7 281.4h48.7v12.2h-48.7zM170 281.4h24.4v12.2h-24.4zM206.5 281.4h85.2v12.2h-85.2zM316.1 281.4h24.4v12.2h-24.4zM84.7 269.2h24.4v12.2h-24.4zM157.8 269.2h12.2v12.2h-12.2zM182.1 269.2h85.2v12.2h-85.2zM60.4 257.1h12.2v12.2h-12.2zM170 257.1h12.2v12.2h-12.2zM194.3 257.1h36.5v12.2h-36.5zM243 257.1h24.4v12.2h-24.4zM60.4 244.9h12.2v12.2h-12.2zM109.1 244.9h24.4v12.2h-24.4zM145.6 244.9h24.4v12.2h-24.4zM206.5 244.9h12.2v12.2h-12.2zM243 244.9h12.2v12.2h-12.2zM316.1 244.9h36.5v12.2h-36.5zM425.7 244.9h12.2v12.2h-12.2zM60.4 232.7h12.2v12.2h-12.2zM145.6 232.7h12.2v12.2h-12.2zM182.1 232.7h48.7v12.2h-48.7zM243 232.7h48.7v12.2h-48.7zM316.1 232.7h12.2v12.2h-12.2zM425.7 232.7h12.2v12.2h-12.2zM72.6 220.6h36.5v12.2h-36.5zM194.3 220.6h12.2v12.2h-12.2zM230.8 220.6h36.5v12.2h-36.5zM279.5 220.6h24.4v12.2h-24.4zM389.1 220.6h24.4v12.2h-24.4zM437.8 220.6h12.2v12.2h-12.2zM72.6 208.4h24.4v12.2h-24.4zM279.5 208.4h12.2v12.2h-12.2zM352.6 208.4h12.2v12.2h-12.2zM401.3 208.4h48.7v12.2h-48.7zM72.6 196.2h24.4v12.2h-24.4zM340.4 196.2h12.2v12.2h-12.2zM413.5 196.2h36.5v12.2h-36.5zM474.4 196.2h12.2v12.2h-12.2zM510.9 196.2h12.2v12.2h-12.2zM340.4 184.1h12.2v12.2h-12.2zM413.5 184.1h36.5v12.2h-36.5zM474.4 184.1h12.2v12.2h-12.2zM291.7 171.9h12.2v12.2h-12.2zM340.4 171.9h12.2v12.2h-12.2zM413.5 171.9h36.5v12.2h-36.5zM474.4 171.9h12.2v12.2h-12.2zM523.1 171.9h12.2v12.2h-12.2zM243 159.7h36.5v12.2h-36.5zM291.7 159.7h12.2v12.2h-12.2zM523.1 159.7h12.2v12.2h-12.2zM291.7 147.5h12.2v12.2h-12.2zM523.1 147.5h12.2v12.2h-12.2zM255.2 135.4h36.5v12.2h-36.5zM230.8 123.2h48.7v12.2h-48.7zM230.8 111h36.5v12.2h-36.5zM644.8 111h12.2v12.2h-12.2zM230.8 98.9h12.2v12.2h-12.2zM644.8 86.7h12.2v12.2h-12.2zM681.4 86.7h12.2v12.2h-12.2zM596.1 74.5h36.5v12.2h-36.5zM596.1 62.4h36.5v12.2h-36.5zM608.3 50.2h24.4v12.2h-24.4zM620.5 38h12.2v12.2h-12.2z" fill="url(#hatch)"/>
<path d="M48.2 60V510M60.4 60V510M72.6 60V510M84.7 60V510M96.9 60V510M109.1 60V510M121.3 60V510M133.4 60V510M145.6 60V510M157.8 60V510M170 60V510M182.1 60V510M194.3 60V510M206.5 60V510M218.7 60V510M230.8 60V510M243 60V510M255.2 60V510M267.4 60V510M279.5 60V510M291.7 60V510M303.9 60V510M316.1 60V510M328.2 60V510M340.4 60V510M352.6 60V510M364.8 60V510M377 60V510M389.1 60V510M401.3 60V510M413.5 60V510M425.7 60V510M437.8 60V510M450 60V510M462.2 60V510M474.4 60V510M486.5 60V510M498.7 60V510M510.9 60V510M523.1 60V510M535.2 60V510M547.4 60V510M559.6 60V510M571.8 60V510M583.9 60V510M596.1 60V510M608.3 60V510M620.5 60V510M632.6 60V510M644.8 60V510M657 60V510M669.2 60V510M681.4 60V510M693.5 60V510M705.7 60V510M717.9 60V510M730.1 60V510M742.2 60V510M754.4 60V510M766.6 60V510M778.8 60V510M790.9 60V510M803.1 60V510M815.3 60V510M50 512.6H810M50 500.5H810M50 488.3H810M50 476.1H810M50 464H810M50 451.8H810M50 439.6H810M50 427.4H810M50 415.3H810M50 403.1H810M50 390.9H810M50 378.8H810M50 366.6H810M50 354.4H810M50 342.3H810M50 330.1H810M50 317.9H810M50 305.8H810M50 293.6H810M50 281.4H810M50 269.2H810M50 257.1H810M50 244.9H810M50 232.7H810M50 220.6H810M50 208.4H810M50 196.2H810M50 184.1H810M50 171.9H810M50 159.7H810M50 147.5H810M50 135.4H810M50 123.2H810M50 111H810M50 98.9H810M50 86.7H810M50 74.5H810M50 62.4H810M50 50.2H810" fill="none" stroke="#666" stroke-opacity="0.7" stroke-width="0.8"/>
</g>
<use href="#outline"/>
<use href="#rough"/>
<path d="M643.4 455.2L639 460.3L634.6 465.9M620.6 488.1L616.8 494.4L613.7 500.5M608.6 524.2L608.6 537.5M490.3 522.3L493.4 527.3L495.3 531.1L496.6 534.7M502.3 570.5L501.4 576.8L499.4 583.2M608 573.7L605.2 580.6L602.3 587.6M574.4 622.2L570 627.2L565.6 632.7M477 633.5L476.6 639.2L477.6 646.8M519.4 678.5L527 676.6L533.9 674.1M653.9 420.3L652 427L650.4 434" fill="none" stroke="#3a3a3a" stroke-width="1"/>
<path d="M544.7 528.6L547.2 524.8L552.3 522.3L557.3 521.6L558.6 524.2L556.1 528L552.3 530.5L547.8 532.4L545.3 531.1Z" fill="#fff" stroke="#555" stroke-width="0.9"/>
<path d="M580.1 520.6h0M593 535.6h0M638.4 443.8h0M639 451.1h0M487.7 463.4h0M513 477.3h0M516.8 511.5h0M525.7 513.7h0M531.4 516.6h0M518.7 519.1h0M519.4 522.9h0M529.5 523.9h0M513.4 527.3h0M517.5 521h0M524.4 514.7h0M551 580.6h0M549.1 585.7h0M552.3 588.9h0M558.6 585.1h0M552.9 593.3h0M542.8 595.2h0M545.9 597.1h0M533.9 602.8h0M569.4 588.9h0M573.8 590.1h0M582 585.1h0M593.4 588.2h0M577.6 593.9h0M563.7 595.2h0M573.2 595.8h0M587.7 596.5h0M565.6 599.4h0M570 600.9h0M577.6 600.3h0M573.8 602.8h0M582.7 604.7h0M564.3 605.3h0M570.6 605.9h0M577.6 609.1h0M575.1 611h0M518.7 613.5h0M525.7 611.6h0M530.1 612.3h0M533.3 611h0M543.4 609.7h0M547.2 612h0M549.7 613.3h0M555.4 611.6h0M500.4 617.3h0M505.4 621.8h0M497.8 623.7h0M495.3 627.5h0M518.7 623.7h0M518.1 627.5h0M533.9 623.7h0M539 619.9h0M545.9 622.4h0M554.8 620.1h0M561.8 617.3h0M545.3 626.8h0M557.3 587h0M551 595.8h0M568.7 592h0M542.2 634.8h0M537.7 642.4h0M525.1 672.2h0M544.7 626.6h0M545.9 622.8h0M646.3 409.8h0M643 404.5h0M637.5 446h0M640 456h0M664.5 404.5h0M649 349.5h0M651.5 353h0M647 357h0M645 366h0M642 372h0M634 384h0M628 393h0M622 403h0" fill="none" stroke="#3a3a3a" stroke-width="1.8" stroke-linecap="round"/>
<path d="M581.4 467.8h0M552.3 599.6h0M587.7 589.2h0M528.9 650.6h0M614.8 432.5h0" fill="none" stroke="#333" stroke-width="2.6" stroke-linecap="round"/>
</g>
<g transform="translate(0 0)">
<text x="60.5" y="448.5" font-size="23.2px">XCO<tspan font-size="15.3px" dy="3.8">2ano</tspan><tspan dy="-3.8">(ppm)</tspan></text>
<rect x="50.7" y="465.3" width="55.7" height="27.8" fill="#0000ff" stroke="#9a9a9a" stroke-width="0.6"/>
<text class="l" x="117" y="488">−1.55 − −0.57</text>
<rect x="256.2" y="465.3" width="56.7" height="27.8" fill="#cfff62" stroke="#9a9a9a" stroke-width="0.6"/>
<text class="l" x="322.5" y="488">0.73 − 1.08</text>
<rect x="50.7" y="503.2" width="55.7" height="27.8" fill="#3a5bff" stroke="#9a9a9a" stroke-width="0.6"/>
<text class="l" x="117" y="525.9">−0.56 − −0.16</text>
<rect x="256.2" y="503.2" width="56.7" height="27.8" fill="#ffff00" stroke="#9a9a9a" stroke-width="0.6"/>
<text class="l" x="322.5" y="525.9">1.09 − 1.46</text>
<rect x="50.7" y="541.1" width="55.7" height="27.8" fill="#38a8ff" stroke="#9a9a9a" stroke-width="0.6"/>
<text class="l" x="117" y="563.8">−0.15 − 0.14</text>
<rect x="256.2" y="541.1" width="56.7" height="27.8" fill="#ffb400" stroke="#9a9a9a" stroke-width="0.6"/>
<text class="l" x="322.5" y="563.8">1.47 − 1.85</text>
<rect x="50.7" y="579" width="55.7" height="27.8" fill="#00ffff" stroke="#9a9a9a" stroke-width="0.6"/>
<text class="l" x="117" y="601.7">0.15 − 0.41</text>
<rect x="256.2" y="579" width="56.7" height="27.8" fill="#ff7300" stroke="#9a9a9a" stroke-width="0.6"/>
<text class="l" x="322.5" y="601.7">1.86 − 2.28</text>
<rect x="50.7" y="616.9" width="55.7" height="27.8" fill="#96ffb0" stroke="#9a9a9a" stroke-width="0.6"/>
<text class="l" x="117" y="639.6">0.42 − 0.72</text>
<rect x="256.2" y="616.9" width="56.7" height="27.8" fill="#ff0000" stroke="#9a9a9a" stroke-width="0.6"/>
<text class="l" x="322.5" y="639.6">2.29 − 3.24</text>
<rect x="46.2" y="656.5" width="36.4" height="18" fill="#fff" stroke="#444" stroke-width="0.9"/>
<text class="l" x="89.2" y="673.4" textLength="176" lengthAdjust="spacingAndGlyphs">National boundaries</text>
<rect x="286.3" y="655.5" width="36.4" height="18.6" fill="url(#hatch)" stroke="#8a8a8a" stroke-width="0.8"/>
<text class="l" x="330.4" y="673.4" textLength="147.6" lengthAdjust="spacingAndGlyphs">Background area</text>
<rect x="581.5" y="675.2" width="164.6" height="8.2" fill="#fff" stroke="#222" stroke-width="1"/>
<rect x="581" y="674.7" width="83" height="9.2" fill="#000"/>
<text class="s" x="581.8" y="666" text-anchor="middle">0</text>
<text class="s" x="649.2" y="666" textLength="29.4" lengthAdjust="spacingAndGlyphs">750</text>
<text class="s" x="727.6" y="666" textLength="68" lengthAdjust="spacingAndGlyphs">1500 km</text>
<text class="n" x="803.9" y="61.2" text-anchor="middle">N</text>
<path d="M803.6 63.8L794.3 94.8L803.6 84.2Z" fill="#000"/>
<path d="M803.6 63.8L812.8 94.8L803.6 84.2Z" fill="#fff" stroke="#000" stroke-width="0.8" stroke-linejoin="miter"/>
<path d="M138.7 40.8v5.5M138.7 698.5v-5.5M260.5 40.8v5.5M260.5 698.5v-5.5M382.2 40.8v5.5M382.2 698.5v-5.5M504 40.8v5.5M504 698.5v-5.5M625.7 40.8v5.5M625.7 698.5v-5.5M747.5 40.8v5.5M747.5 698.5v-5.5M38.6 609h5.5M829.3 609h-5.5M38.6 487.3h5.5M829.3 487.3h-5.5M38.6 365.6h5.5M829.3 365.6h-5.5M38.6 243.9h5.5M829.3 243.9h-5.5M38.6 122.2h5.5M829.3 122.2h-5.5" fill="none" stroke="#555" stroke-width="1"/>
<path d="M39.6 42.1H828.3" fill="none" stroke="#dcdcdc" stroke-width="1.3"/>
<path d="M38.6 39.9V698.5H829.3V39.9" fill="none" stroke="#111" stroke-width="2.2" stroke-linejoin="miter"/>
<path d="M37.5 40.6H830.4" fill="none" stroke="#000" stroke-width="1.5"/>
<text class="t" transform="translate(139.2 34.9) scale(0.915 1)" text-anchor="middle">80°E</text>
<text class="t" transform="translate(139.2 725.9) scale(0.915 1)" text-anchor="middle">80°E</text>
<text class="t" transform="translate(261 34.9) scale(0.915 1)" text-anchor="middle">90°E</text>
<text class="t" transform="translate(261 725.9) scale(0.915 1)" text-anchor="middle">90°E</text>
<text class="t" transform="translate(382.7 34.9) scale(0.915 1)" text-anchor="middle">100°E</text>
<text class="t" transform="translate(382.7 725.9) scale(0.915 1)" text-anchor="middle">100°E</text>
<text class="t" transform="translate(504.5 34.9) scale(0.915 1)" text-anchor="middle">110°E</text>
<text class="t" transform="translate(504.5 725.9) scale(0.915 1)" text-anchor="middle">110°E</text>
<text class="t" transform="translate(626.2 34.9) scale(0.915 1)" text-anchor="middle">120°E</text>
<text class="t" transform="translate(626.2 725.9) scale(0.915 1)" text-anchor="middle">120°E</text>
<text class="t" transform="translate(748 34.9) scale(0.915 1)" text-anchor="middle">130°E</text>
<text class="t" transform="translate(748 725.9) scale(0.915 1)" text-anchor="middle">130°E</text>
<text class="v" transform="translate(32.8 609) rotate(-90)" text-anchor="middle">10°N</text>
<text class="v" transform="translate(855.0 609) rotate(-90)" text-anchor="middle">10°N</text>
<text class="v" transform="translate(32.8 487.3) rotate(-90)" text-anchor="middle">20°N</text>
<text class="v" transform="translate(855.0 487.3) rotate(-90)" text-anchor="middle">20°N</text>
<text class="v" transform="translate(32.8 365.6) rotate(-90)" text-anchor="middle">30°N</text>
<text class="v" transform="translate(855.0 365.6) rotate(-90)" text-anchor="middle">30°N</text>
<text class="v" transform="translate(32.8 243.9) rotate(-90)" text-anchor="middle">40°N</text>
<text class="v" transform="translate(855.0 243.9) rotate(-90)" text-anchor="middle">40°N</text>
<text class="v" transform="translate(32.8 122.2) rotate(-90)" text-anchor="middle">50°N</text>
<text class="v" transform="translate(855.0 122.2) rotate(-90)" text-anchor="middle">50°N</text>
<text class="c" x="434" y="772.7" text-anchor="middle">(<tspan font-weight="bold">g</tspan>) 2018</text>
</g>
<g transform="translate(1026 0)">
<path d="M138.7 698.5V40.8M260.5 698.5V40.8M382.2 698.5V40.8M504 698.5V40.8M625.7 698.5V40.8M747.5 698.5V40.8" fill="none" stroke="#cdcdcd" stroke-width="1.4" stroke-dasharray="6.8 21.05"/>
<path d="M38.6 609H829.3M38.6 487.3H829.3M38.6 365.6H829.3M38.6 243.9H829.3M38.6 122.2H829.3" fill="none" stroke="#cdcdcd" stroke-width="1.4" stroke-dasharray="6.8 21.05"/>
<g clip-path="url(#clip)">
<path d="M218.7 403.1h73.1v12.2h-73.1zM194.3 390.9h12.2v12.2h-12.2zM218.7 390.9h73.1v12.2h-73.1zM194.3 378.8h12.2v12.2h-12.2zM218.7 378.8h73.1v12.2h-73.1zM194.3 366.6h12.2v12.2h-12.2zM170 269.2h12.2v12.2h-12.2zM218.7 244.9h24.4v12.2h-24.4zM352.6 244.9h24.4v12.2h-24.4zM291.7 232.7h12.2v12.2h-12.2zM328.2 232.7h36.5v12.2h-36.5zM36 220.6h36.5v12.2h-36.5zM413.5 220.6h12.2v12.2h-12.2zM48.2 208.4h24.4v12.2h-24.4zM60.4 196.2h12.2v12.2h-12.2zM498.7 196.2h12.2v12.2h-12.2zM170 184.1h36.5v12.2h-36.5zM486.5 184.1h48.7v12.2h-48.7zM109.1 171.9h60.9v12.2h-60.9zM486.5 171.9h36.5v12.2h-36.5zM498.7 159.7h24.4v12.2h-24.4zM510.9 147.5h12.2v12.2h-12.2z" fill="#0000ff"/>
<path d="M291.7 403.1h12.2v12.2h-12.2zM413.5 403.1h36.5v12.2h-36.5zM182.1 390.9h12.2v12.2h-12.2zM291.7 390.9h12.2v12.2h-12.2zM413.5 390.9h24.4v12.2h-24.4zM182.1 378.8h12.2v12.2h-12.2zM291.7 378.8h12.2v12.2h-12.2zM413.5 378.8h36.5v12.2h-36.5zM182.1 366.6h12.2v12.2h-12.2zM243 366.6h24.4v12.2h-24.4zM279.5 366.6h12.2v12.2h-12.2zM243 293.6h12.2v12.2h-12.2zM377 293.6h36.5v12.2h-36.5zM425.7 293.6h24.4v12.2h-24.4zM133.4 281.4h36.5v12.2h-36.5zM194.3 281.4h12.2v12.2h-12.2zM340.4 281.4h60.9v12.2h-60.9zM109.1 269.2h48.7v12.2h-48.7zM352.6 269.2h36.5v12.2h-36.5zM48.2 257.1h12.2v12.2h-12.2zM182.1 257.1h12.2v12.2h-12.2zM230.8 257.1h12.2v12.2h-12.2zM352.6 257.1h73.1v12.2h-73.1zM36 244.9h24.4v12.2h-24.4zM255.2 244.9h60.9v12.2h-60.9zM377 244.9h24.4v12.2h-24.4zM413.5 244.9h12.2v12.2h-12.2zM23.8 232.7h36.5v12.2h-36.5zM303.9 232.7h12.2v12.2h-12.2zM364.8 232.7h60.9v12.2h-60.9zM109.1 220.6h12.2v12.2h-12.2zM328.2 220.6h48.7v12.2h-48.7zM425.7 220.6h12.2v12.2h-12.2zM96.9 208.4h60.9v12.2h-60.9zM316.1 208.4h36.5v12.2h-36.5zM364.8 208.4h36.5v12.2h-36.5zM498.7 208.4h12.2v12.2h-12.2zM96.9 196.2h97.4v12.2h-97.4zM279.5 196.2h60.9v12.2h-60.9zM486.5 196.2h12.2v12.2h-12.2zM523.1 196.2h48.7v12.2h-48.7zM109.1 184.1h60.9v12.2h-60.9zM206.5 184.1h12.2v12.2h-12.2zM535.2 184.1h48.7v12.2h-48.7zM535.2 171.9h48.7v12.2h-48.7zM121.3 159.7h60.9v12.2h-60.9zM535.2 159.7h36.5v12.2h-36.5zM133.4 147.5h48.7v12.2h-48.7zM535.2 147.5h85.2v12.2h-85.2zM145.6 135.4h60.9v12.2h-60.9zM230.8 135.4h24.4v12.2h-24.4zM535.2 135.4h73.1v12.2h-73.1zM157.8 123.2h12.2v12.2h-12.2zM535.2 123.2h73.1v12.2h-73.1zM547.4 111h73.1v12.2h-73.1zM559.6 98.9h36.5v12.2h-36.5zM571.8 86.7h12.2v12.2h-12.2z" fill="#3a5bff"/>
<path d="M340.4 439.6h12.2v12.2h-12.2zM328.2 427.4h24.4v12.2h-24.4zM401.3 427.4h24.4v12.2h-24.4zM316.1 415.3h36.5v12.2h-36.5zM401.3 415.3h48.7v12.2h-48.7zM303.9 403.1h12.2v12.2h-12.2zM340.4 403.1h36.5v12.2h-36.5zM401.3 403.1h12.2v12.2h-12.2zM450 403.1h12.2v12.2h-12.2zM303.9 390.9h12.2v12.2h-12.2zM401.3 390.9h12.2v12.2h-12.2zM437.8 390.9h36.5v12.2h-36.5zM303.9 378.8h12.2v12.2h-12.2zM377 378.8h36.5v12.2h-36.5zM450 378.8h12.2v12.2h-12.2zM121.3 366.6h36.5v12.2h-36.5zM218.7 366.6h24.4v12.2h-24.4zM267.4 366.6h12.2v12.2h-12.2zM389.1 366.6h60.9v12.2h-60.9zM462.2 366.6h12.2v12.2h-12.2zM121.3 354.4h36.5v12.2h-36.5zM255.2 354.4h12.2v12.2h-12.2zM498.7 354.4h24.4v12.2h-24.4zM121.3 342.3h36.5v12.2h-36.5zM340.4 342.3h12.2v12.2h-12.2zM498.7 342.3h24.4v12.2h-24.4zM243 330.1h36.5v12.2h-36.5zM316.1 330.1h36.5v12.2h-36.5zM498.7 330.1h12.2v12.2h-12.2zM133.4 317.9h12.2v12.2h-12.2zM267.4 317.9h24.4v12.2h-24.4zM316.1 317.9h48.7v12.2h-48.7zM279.5 305.8h12.2v12.2h-12.2zM316.1 305.8h60.9v12.2h-60.9zM389.1 305.8h48.7v12.2h-48.7zM498.7 305.8h12.2v12.2h-12.2zM157.8 293.6h12.2v12.2h-12.2zM316.1 293.6h12.2v12.2h-12.2zM352.6 293.6h12.2v12.2h-12.2zM413.5 293.6h12.2v12.2h-12.2zM303.9 281.4h12.2v12.2h-12.2zM401.3 281.4h12.2v12.2h-12.2zM425.7 281.4h24.4v12.2h-24.4zM267.4 269.2h12.2v12.2h-12.2zM303.9 269.2h48.7v12.2h-48.7zM389.1 269.2h12.2v12.2h-12.2zM413.5 269.2h36.5v12.2h-36.5zM474.4 269.2h12.2v12.2h-12.2zM96.9 257.1h36.5v12.2h-36.5zM267.4 257.1h85.2v12.2h-85.2zM425.7 257.1h24.4v12.2h-24.4zM462.2 257.1h36.5v12.2h-36.5zM72.6 244.9h12.2v12.2h-12.2zM194.3 244.9h12.2v12.2h-12.2zM401.3 244.9h12.2v12.2h-12.2zM498.7 244.9h24.4v12.2h-24.4zM72.6 232.7h12.2v12.2h-12.2zM96.9 232.7h36.5v12.2h-36.5zM486.5 232.7h12.2v12.2h-12.2zM121.3 220.6h24.4v12.2h-24.4zM303.9 220.6h24.4v12.2h-24.4zM377 220.6h12.2v12.2h-12.2zM157.8 208.4h24.4v12.2h-24.4zM267.4 208.4h12.2v12.2h-12.2zM291.7 208.4h24.4v12.2h-24.4zM486.5 208.4h12.2v12.2h-12.2zM510.9 208.4h60.9v12.2h-60.9zM194.3 196.2h12.2v12.2h-12.2zM255.2 196.2h24.4v12.2h-24.4zM571.8 196.2h12.2v12.2h-12.2zM303.9 184.1h12.2v12.2h-12.2zM620.5 184.1h24.4v12.2h-24.4zM170 171.9h36.5v12.2h-36.5zM303.9 171.9h36.5v12.2h-36.5zM583.9 171.9h24.4v12.2h-24.4zM182.1 159.7h48.7v12.2h-48.7zM303.9 159.7h24.4v12.2h-24.4zM571.8 159.7h73.1v12.2h-73.1zM182.1 147.5h12.2v12.2h-12.2zM206.5 147.5h85.2v12.2h-85.2zM303.9 147.5h12.2v12.2h-12.2zM620.5 147.5h48.7v12.2h-48.7zM206.5 135.4h24.4v12.2h-24.4zM608.3 135.4h60.9v12.2h-60.9zM170 123.2h60.9v12.2h-60.9zM608.3 123.2h48.7v12.2h-48.7zM182.1 111h48.7v12.2h-48.7zM620.5 111h12.2v12.2h-12.2zM194.3 98.9h36.5v12.2h-36.5zM596.1 98.9h48.7v12.2h-48.7zM681.4 98.9h24.4v12.2h-24.4zM583.9 86.7h48.7v12.2h-48.7zM632.6 74.5h12.2v12.2h-12.2z" fill="#38a8ff"/>
<path d="M474.4 512.6h36.5v12.2h-36.5zM462.2 500.5h60.9v12.2h-60.9zM450 488.3h85.2v12.2h-85.2zM364.8 476.1h36.5v12.2h-36.5zM462.2 476.1h60.9v12.2h-60.9zM352.6 464h60.9v12.2h-60.9zM437.8 464h12.2v12.2h-12.2zM486.5 464h12.2v12.2h-12.2zM340.4 451.8h73.1v12.2h-73.1zM437.8 451.8h12.2v12.2h-12.2zM352.6 439.6h12.2v12.2h-12.2zM377 439.6h36.5v12.2h-36.5zM437.8 439.6h12.2v12.2h-12.2zM352.6 427.4h48.7v12.2h-48.7zM425.7 427.4h24.4v12.2h-24.4zM352.6 415.3h48.7v12.2h-48.7zM377 403.1h24.4v12.2h-24.4zM462.2 403.1h12.2v12.2h-12.2zM352.6 390.9h24.4v12.2h-24.4zM389.1 390.9h12.2v12.2h-12.2zM474.4 390.9h12.2v12.2h-12.2zM157.8 378.8h12.2v12.2h-12.2zM364.8 378.8h12.2v12.2h-12.2zM462.2 378.8h24.4v12.2h-24.4zM498.7 378.8h36.5v12.2h-36.5zM157.8 366.6h12.2v12.2h-12.2zM364.8 366.6h24.4v12.2h-24.4zM450 366.6h12.2v12.2h-12.2zM474.4 366.6h60.9v12.2h-60.9zM157.8 354.4h12.2v12.2h-12.2zM230.8 354.4h24.4v12.2h-24.4zM267.4 354.4h24.4v12.2h-24.4zM340.4 354.4h97.4v12.2h-97.4zM462.2 354.4h36.5v12.2h-36.5zM523.1 354.4h12.2v12.2h-12.2zM230.8 342.3h12.2v12.2h-12.2zM255.2 342.3h24.4v12.2h-24.4zM352.6 342.3h12.2v12.2h-12.2zM401.3 342.3h12.2v12.2h-12.2zM462.2 342.3h36.5v12.2h-36.5zM218.7 330.1h12.2v12.2h-12.2zM279.5 330.1h24.4v12.2h-24.4zM352.6 330.1h12.2v12.2h-12.2zM462.2 330.1h36.5v12.2h-36.5zM510.9 330.1h12.2v12.2h-12.2zM389.1 317.9h36.5v12.2h-36.5zM450 317.9h12.2v12.2h-12.2zM486.5 317.9h36.5v12.2h-36.5zM121.3 305.8h12.2v12.2h-12.2zM377 305.8h12.2v12.2h-12.2zM437.8 305.8h24.4v12.2h-24.4zM486.5 305.8h12.2v12.2h-12.2zM510.9 305.8h12.2v12.2h-12.2zM72.6 293.6h12.2v12.2h-12.2zM279.5 293.6h12.2v12.2h-12.2zM450 293.6h24.4v12.2h-24.4zM498.7 293.6h12.2v12.2h-12.2zM60.4 281.4h24.4v12.2h-24.4zM291.7 281.4h12.2v12.2h-12.2zM413.5 281.4h12.2v12.2h-12.2zM450 281.4h36.5v12.2h-36.5zM644.8 281.4h12.2v12.2h-12.2zM48.2 269.2h36.5v12.2h-36.5zM279.5 269.2h24.4v12.2h-24.4zM401.3 269.2h12.2v12.2h-12.2zM450 269.2h24.4v12.2h-24.4zM486.5 269.2h12.2v12.2h-12.2zM644.8 269.2h24.4v12.2h-24.4zM84.7 257.1h12.2v12.2h-12.2zM157.8 257.1h12.2v12.2h-12.2zM450 257.1h12.2v12.2h-12.2zM498.7 257.1h12.2v12.2h-12.2zM644.8 257.1h36.5v12.2h-36.5zM84.7 244.9h24.4v12.2h-24.4zM133.4 244.9h12.2v12.2h-12.2zM170 244.9h24.4v12.2h-24.4zM437.8 244.9h12.2v12.2h-12.2zM462.2 244.9h36.5v12.2h-36.5zM84.7 232.7h12.2v12.2h-12.2zM133.4 232.7h12.2v12.2h-12.2zM230.8 232.7h12.2v12.2h-12.2zM437.8 232.7h12.2v12.2h-12.2zM462.2 232.7h24.4v12.2h-24.4zM145.6 220.6h12.2v12.2h-12.2zM267.4 220.6h12.2v12.2h-12.2zM182.1 208.4h12.2v12.2h-12.2zM255.2 208.4h12.2v12.2h-12.2zM450 208.4h36.5v12.2h-36.5zM206.5 196.2h12.2v12.2h-12.2zM243 196.2h12.2v12.2h-12.2zM450 196.2h24.4v12.2h-24.4zM620.5 196.2h24.4v12.2h-24.4zM291.7 184.1h12.2v12.2h-12.2zM316.1 184.1h24.4v12.2h-24.4zM450 184.1h24.4v12.2h-24.4zM583.9 184.1h36.5v12.2h-36.5zM644.8 184.1h12.2v12.2h-12.2zM206.5 171.9h12.2v12.2h-12.2zM450 171.9h24.4v12.2h-24.4zM620.5 171.9h36.5v12.2h-36.5zM230.8 159.7h12.2v12.2h-12.2zM644.8 159.7h12.2v12.2h-12.2zM803.1 159.7h12.2v12.2h-12.2zM194.3 147.5h12.2v12.2h-12.2zM669.2 147.5h36.5v12.2h-36.5zM803.1 147.5h24.4v12.2h-24.4zM669.2 135.4h48.7v12.2h-48.7zM790.9 135.4h48.7v12.2h-48.7zM657 123.2h48.7v12.2h-48.7zM742.2 123.2h85.2v12.2h-85.2zM632.6 111h12.2v12.2h-12.2zM657 111h60.9v12.2h-60.9zM730.1 111h85.2v12.2h-85.2zM644.8 98.9h36.5v12.2h-36.5zM705.7 98.9h97.4v12.2h-97.4zM632.6 86.7h12.2v12.2h-12.2zM657 86.7h24.4v12.2h-24.4zM693.5 86.7h48.7v12.2h-48.7zM644.8 74.5h12.2v12.2h-12.2zM681.4 74.5h12.2v12.2h-12.2zM596.1 62.4h121.8v12.2h-121.8zM608.3 50.2h97.4v12.2h-97.4zM620.5 38h73.1v12.2h-73.1z" fill="#00ffff"/>
<path d="M413.5 464h24.4v12.2h-24.4zM474.4 464h12.2v12.2h-12.2zM498.7 464h24.4v12.2h-24.4zM413.5 451.8h24.4v12.2h-24.4zM474.4 451.8h12.2v12.2h-12.2zM498.7 451.8h24.4v12.2h-24.4zM364.8 439.6h12.2v12.2h-12.2zM413.5 439.6h24.4v12.2h-24.4zM450 427.4h12.2v12.2h-12.2zM450 415.3h24.4v12.2h-24.4zM316.1 403.1h24.4v12.2h-24.4zM474.4 403.1h12.2v12.2h-12.2zM316.1 390.9h36.5v12.2h-36.5zM377 390.9h12.2v12.2h-12.2zM316.1 378.8h48.7v12.2h-48.7zM486.5 378.8h12.2v12.2h-12.2zM535.2 378.8h24.4v12.2h-24.4zM303.9 366.6h60.9v12.2h-60.9zM535.2 366.6h12.2v12.2h-12.2zM218.7 354.4h12.2v12.2h-12.2zM291.7 354.4h36.5v12.2h-36.5zM437.8 354.4h24.4v12.2h-24.4zM291.7 342.3h48.7v12.2h-48.7zM364.8 342.3h36.5v12.2h-36.5zM413.5 342.3h48.7v12.2h-48.7zM523.1 342.3h12.2v12.2h-12.2zM364.8 330.1h24.4v12.2h-24.4zM401.3 330.1h60.9v12.2h-60.9zM377 317.9h12.2v12.2h-12.2zM425.7 317.9h24.4v12.2h-24.4zM462.2 317.9h24.4v12.2h-24.4zM523.1 317.9h12.2v12.2h-12.2zM462.2 305.8h24.4v12.2h-24.4zM523.1 305.8h12.2v12.2h-12.2zM474.4 293.6h24.4v12.2h-24.4zM510.9 293.6h12.2v12.2h-12.2zM571.8 293.6h12.2v12.2h-12.2zM486.5 281.4h24.4v12.2h-24.4zM571.8 281.4h12.2v12.2h-12.2zM632.6 281.4h12.2v12.2h-12.2zM498.7 269.2h12.2v12.2h-12.2zM523.1 269.2h24.4v12.2h-24.4zM620.5 269.2h24.4v12.2h-24.4zM72.6 257.1h12.2v12.2h-12.2zM133.4 257.1h24.4v12.2h-24.4zM510.9 257.1h36.5v12.2h-36.5zM620.5 257.1h24.4v12.2h-24.4zM450 244.9h12.2v12.2h-12.2zM523.1 244.9h48.7v12.2h-48.7zM669.2 244.9h24.4v12.2h-24.4zM157.8 232.7h12.2v12.2h-12.2zM450 232.7h12.2v12.2h-12.2zM669.2 232.7h60.9v12.2h-60.9zM157.8 220.6h36.5v12.2h-36.5zM206.5 220.6h12.2v12.2h-12.2zM450 220.6h12.2v12.2h-12.2zM535.2 220.6h24.4v12.2h-24.4zM669.2 220.6h60.9v12.2h-60.9zM194.3 208.4h60.9v12.2h-60.9zM571.8 208.4h12.2v12.2h-12.2zM693.5 208.4h36.5v12.2h-36.5zM218.7 196.2h24.4v12.2h-24.4zM352.6 196.2h24.4v12.2h-24.4zM389.1 196.2h24.4v12.2h-24.4zM583.9 196.2h36.5v12.2h-36.5zM644.8 196.2h12.2v12.2h-12.2zM255.2 184.1h36.5v12.2h-36.5zM352.6 184.1h24.4v12.2h-24.4zM389.1 184.1h24.4v12.2h-24.4zM218.7 171.9h24.4v12.2h-24.4zM267.4 171.9h24.4v12.2h-24.4zM352.6 171.9h24.4v12.2h-24.4zM389.1 171.9h24.4v12.2h-24.4zM608.3 171.9h12.2v12.2h-12.2zM657 171.9h24.4v12.2h-24.4zM790.9 171.9h12.2v12.2h-12.2zM279.5 159.7h12.2v12.2h-12.2zM657 159.7h36.5v12.2h-36.5zM790.9 159.7h12.2v12.2h-12.2zM705.7 147.5h24.4v12.2h-24.4zM778.8 147.5h24.4v12.2h-24.4zM717.9 135.4h12.2v12.2h-12.2zM754.4 135.4h36.5v12.2h-36.5zM705.7 123.2h36.5v12.2h-36.5zM717.9 111h12.2v12.2h-12.2zM657 74.5h24.4v12.2h-24.4zM693.5 74.5h36.5v12.2h-36.5z" fill="#96ffb0"/>
<path d="M450 476.1h12.2v12.2h-12.2zM523.1 476.1h12.2v12.2h-12.2zM450 464h24.4v12.2h-24.4zM523.1 464h12.2v12.2h-12.2zM450 451.8h24.4v12.2h-24.4zM486.5 451.8h12.2v12.2h-12.2zM523.1 451.8h12.2v12.2h-12.2zM450 439.6h36.5v12.2h-36.5zM510.9 439.6h24.4v12.2h-24.4zM462.2 427.4h12.2v12.2h-12.2zM632.6 427.4h36.5v12.2h-36.5zM474.4 415.3h12.2v12.2h-12.2zM620.5 415.3h48.7v12.2h-48.7zM486.5 403.1h12.2v12.2h-12.2zM535.2 403.1h12.2v12.2h-12.2zM620.5 403.1h48.7v12.2h-48.7zM486.5 390.9h60.9v12.2h-60.9zM632.6 390.9h24.4v12.2h-24.4zM547.4 366.6h12.2v12.2h-12.2zM571.8 366.6h24.4v12.2h-24.4zM535.2 354.4h12.2v12.2h-12.2zM583.9 354.4h12.2v12.2h-12.2zM535.2 342.3h12.2v12.2h-12.2zM389.1 330.1h12.2v12.2h-12.2zM523.1 330.1h24.4v12.2h-24.4zM559.6 330.1h24.4v12.2h-24.4zM535.2 317.9h12.2v12.2h-12.2zM571.8 317.9h12.2v12.2h-12.2zM535.2 305.8h12.2v12.2h-12.2zM559.6 305.8h97.4v12.2h-97.4zM523.1 293.6h12.2v12.2h-12.2zM559.6 293.6h12.2v12.2h-12.2zM583.9 293.6h73.1v12.2h-73.1zM510.9 281.4h24.4v12.2h-24.4zM547.4 281.4h24.4v12.2h-24.4zM583.9 281.4h48.7v12.2h-48.7zM510.9 269.2h12.2v12.2h-12.2zM547.4 269.2h73.1v12.2h-73.1zM547.4 257.1h48.7v12.2h-48.7zM644.8 244.9h24.4v12.2h-24.4zM170 232.7h12.2v12.2h-12.2zM498.7 232.7h12.2v12.2h-12.2zM547.4 232.7h12.2v12.2h-12.2zM644.8 232.7h24.4v12.2h-24.4zM218.7 220.6h12.2v12.2h-12.2zM462.2 220.6h73.1v12.2h-73.1zM559.6 220.6h24.4v12.2h-24.4zM632.6 220.6h36.5v12.2h-36.5zM742.2 220.6h12.2v12.2h-12.2zM583.9 208.4h109.6v12.2h-109.6zM742.2 208.4h24.4v12.2h-24.4zM377 196.2h12.2v12.2h-12.2zM657 196.2h12.2v12.2h-12.2zM681.4 196.2h48.7v12.2h-48.7zM742.2 196.2h36.5v12.2h-36.5zM218.7 184.1h36.5v12.2h-36.5zM377 184.1h12.2v12.2h-12.2zM657 184.1h12.2v12.2h-12.2zM730.1 184.1h60.9v12.2h-60.9zM243 171.9h24.4v12.2h-24.4zM377 171.9h12.2v12.2h-12.2zM681.4 171.9h12.2v12.2h-12.2zM754.4 171.9h36.5v12.2h-36.5zM693.5 159.7h24.4v12.2h-24.4zM766.6 159.7h24.4v12.2h-24.4zM730.1 147.5h12.2v12.2h-12.2zM766.6 147.5h12.2v12.2h-12.2zM730.1 135.4h24.4v12.2h-24.4z" fill="#cfff62"/>
<path d="M535.2 476.1h12.2v12.2h-12.2zM620.5 476.1h24.4v12.2h-24.4zM535.2 464h48.7v12.2h-48.7zM608.3 464h48.7v12.2h-48.7zM535.2 451.8h48.7v12.2h-48.7zM596.1 451.8h73.1v12.2h-73.1zM486.5 439.6h24.4v12.2h-24.4zM535.2 439.6h48.7v12.2h-48.7zM608.3 439.6h60.9v12.2h-60.9zM474.4 427.4h109.6v12.2h-109.6zM608.3 427.4h24.4v12.2h-24.4zM486.5 415.3h85.2v12.2h-85.2zM608.3 415.3h12.2v12.2h-12.2zM498.7 403.1h36.5v12.2h-36.5zM547.4 403.1h24.4v12.2h-24.4zM596.1 403.1h24.4v12.2h-24.4zM547.4 390.9h85.2v12.2h-85.2zM559.6 378.8h73.1v12.2h-73.1zM559.6 366.6h12.2v12.2h-12.2zM596.1 366.6h12.2v12.2h-12.2zM547.4 354.4h36.5v12.2h-36.5zM596.1 354.4h24.4v12.2h-24.4zM547.4 342.3h121.8v12.2h-121.8zM547.4 330.1h12.2v12.2h-12.2zM583.9 330.1h12.2v12.2h-12.2zM547.4 317.9h24.4v12.2h-24.4zM583.9 317.9h24.4v12.2h-24.4zM620.5 317.9h48.7v12.2h-48.7zM547.4 305.8h12.2v12.2h-12.2zM535.2 293.6h24.4v12.2h-24.4zM535.2 281.4h12.2v12.2h-12.2zM596.1 257.1h24.4v12.2h-24.4zM608.3 244.9h36.5v12.2h-36.5zM510.9 232.7h36.5v12.2h-36.5zM559.6 232.7h24.4v12.2h-24.4zM620.5 232.7h24.4v12.2h-24.4zM583.9 220.6h48.7v12.2h-48.7zM730.1 220.6h12.2v12.2h-12.2zM730.1 208.4h12.2v12.2h-12.2zM669.2 196.2h12.2v12.2h-12.2zM730.1 196.2h12.2v12.2h-12.2zM669.2 184.1h60.9v12.2h-60.9zM693.5 171.9h60.9v12.2h-60.9zM717.9 159.7h48.7v12.2h-48.7zM742.2 147.5h24.4v12.2h-24.4z" fill="#ffff00"/>
<path d="M583.9 451.8h12.2v12.2h-12.2zM583.9 439.6h24.4v12.2h-24.4zM583.9 427.4h24.4v12.2h-24.4zM571.8 415.3h36.5v12.2h-36.5zM571.8 403.1h24.4v12.2h-24.4zM632.6 378.8h24.4v12.2h-24.4zM608.3 366.6h60.9v12.2h-60.9zM620.5 354.4h48.7v12.2h-48.7zM596.1 330.1h73.1v12.2h-73.1zM608.3 317.9h12.2v12.2h-12.2zM571.8 244.9h36.5v12.2h-36.5zM583.9 232.7h36.5v12.2h-36.5z" fill="#ffb400"/>
<path d="M206.5 390.9h12.2v12.2h-12.2zM170 378.8h12.2v12.2h-12.2zM206.5 378.8h12.2v12.2h-12.2zM170 366.6h12.2v12.2h-12.2zM206.5 366.6h12.2v12.2h-12.2zM291.7 366.6h12.2v12.2h-12.2zM109.1 354.4h12.2v12.2h-12.2zM170 354.4h48.7v12.2h-48.7zM328.2 354.4h12.2v12.2h-12.2zM96.9 342.3h24.4v12.2h-24.4zM157.8 342.3h73.1v12.2h-73.1zM243 342.3h12.2v12.2h-12.2zM279.5 342.3h12.2v12.2h-12.2zM84.7 330.1h133.9v12.2h-133.9zM230.8 330.1h12.2v12.2h-12.2zM303.9 330.1h12.2v12.2h-12.2zM84.7 317.9h48.7v12.2h-48.7zM145.6 317.9h121.8v12.2h-121.8zM291.7 317.9h24.4v12.2h-24.4zM364.8 317.9h12.2v12.2h-12.2zM96.9 305.8h24.4v12.2h-24.4zM133.4 305.8h146.1v12.2h-146.1zM291.7 305.8h24.4v12.2h-24.4zM84.7 293.6h73.1v12.2h-73.1zM170 293.6h73.1v12.2h-73.1zM255.2 293.6h24.4v12.2h-24.4zM291.7 293.6h24.4v12.2h-24.4zM328.2 293.6h24.4v12.2h-24.4zM364.8 293.6h12.2v12.2h-12.2zM84.7 281.4h48.7v12.2h-48.7zM170 281.4h24.4v12.2h-24.4zM206.5 281.4h85.2v12.2h-85.2zM316.1 281.4h24.4v12.2h-24.4zM84.7 269.2h24.4v12.2h-24.4zM157.8 269.2h12.2v12.2h-12.2zM182.1 269.2h85.2v12.2h-85.2zM60.4 257.1h12.2v12.2h-12.2zM170 257.1h12.2v12.2h-12.2zM194.3 257.1h36.5v12.2h-36.5zM243 257.1h24.4v12.2h-24.4zM60.4 244.9h12.2v12.2h-12.2zM109.1 244.9h24.4v12.2h-24.4zM145.6 244.9h24.4v12.2h-24.4zM206.5 244.9h12.2v12.2h-12.2zM243 244.9h12.2v12.2h-12.2zM316.1 244.9h36.5v12.2h-36.5zM425.7 244.9h12.2v12.2h-12.2zM60.4 232.7h12.2v12.2h-12.2zM145.6 232.7h12.2v12.2h-12.2zM182.1 232.7h48.7v12.2h-48.7zM243 232.7h48.7v12.2h-48.7zM316.1 232.7h12.2v12.2h-12.2zM425.7 232.7h12.2v12.2h-12.2zM72.6 220.6h36.5v12.2h-36.5zM194.3 220.6h12.2v12.2h-12.2zM230.8 220.6h36.5v12.2h-36.5zM279.5 220.6h24.4v12.2h-24.4zM389.1 220.6h24.4v12.2h-24.4zM437.8 220.6h12.2v12.2h-12.2zM72.6 208.4h24.4v12.2h-24.4zM279.5 208.4h12.2v12.2h-12.2zM352.6 208.4h12.2v12.2h-12.2zM401.3 208.4h48.7v12.2h-48.7zM72.6 196.2h24.4v12.2h-24.4zM340.4 196.2h12.2v12.2h-12.2zM413.5 196.2h36.5v12.2h-36.5zM474.4 196.2h12.2v12.2h-12.2zM510.9 196.2h12.2v12.2h-12.2zM340.4 184.1h12.2v12.2h-12.2zM413.5 184.1h36.5v12.2h-36.5zM474.4 184.1h12.2v12.2h-12.2zM291.7 171.9h12.2v12.2h-12.2zM340.4 171.9h12.2v12.2h-12.2zM413.5 171.9h36.5v12.2h-36.5zM474.4 171.9h12.2v12.2h-12.2zM523.1 171.9h12.2v12.2h-12.2zM243 159.7h36.5v12.2h-36.5zM291.7 159.7h12.2v12.2h-12.2zM523.1 159.7h12.2v12.2h-12.2zM291.7 147.5h12.2v12.2h-12.2zM523.1 147.5h12.2v12.2h-12.2zM255.2 135.4h36.5v12.2h-36.5zM230.8 123.2h48.7v12.2h-48.7zM230.8 111h36.5v12.2h-36.5zM644.8 111h12.2v12.2h-12.2zM230.8 98.9h12.2v12.2h-12.2zM644.8 86.7h12.2v12.2h-12.2zM681.4 86.7h12.2v12.2h-12.2zM596.1 74.5h36.5v12.2h-36.5z" fill="url(#hatch)"/>
<path d="M48.2 60V510M60.4 60V510M72.6 60V510M84.7 60V510M96.9 60V510M109.1 60V510M121.3 60V510M133.4 60V510M145.6 60V510M157.8 60V510M170 60V510M182.1 60V510M194.3 60V510M206.5 60V510M218.7 60V510M230.8 60V510M243 60V510M255.2 60V510M267.4 60V510M279.5 60V510M291.7 60V510M303.9 60V510M316.1 60V510M328.2 60V510M340.4 60V510M352.6 60V510M364.8 60V510M377 60V510M389.1 60V510M401.3 60V510M413.5 60V510M425.7 60V510M437.8 60V510M450 60V510M462.2 60V510M474.4 60V510M486.5 60V510M498.7 60V510M510.9 60V510M523.1 60V510M535.2 60V510M547.4 60V510M559.6 60V510M571.8 60V510M583.9 60V510M596.1 60V510M608.3 60V510M620.5 60V510M632.6 60V510M644.8 60V510M657 60V510M669.2 60V510M681.4 60V510M693.5 60V510M705.7 60V510M717.9 60V510M730.1 60V510M742.2 60V510M754.4 60V510M766.6 60V510M778.8 60V510M790.9 60V510M803.1 60V510M815.3 60V510M50 512.6H810M50 500.5H810M50 488.3H810M50 476.1H810M50 464H810M50 451.8H810M50 439.6H810M50 427.4H810M50 415.3H810M50 403.1H810M50 390.9H810M50 378.8H810M50 366.6H810M50 354.4H810M50 342.3H810M50 330.1H810M50 317.9H810M50 305.8H810M50 293.6H810M50 281.4H810M50 269.2H810M50 257.1H810M50 244.9H810M50 232.7H810M50 220.6H810M50 208.4H810M50 196.2H810M50 184.1H810M50 171.9H810M50 159.7H810M50 147.5H810M50 135.4H810M50 123.2H810M50 111H810M50 98.9H810M50 86.7H810M50 74.5H810M50 62.4H810M50 50.2H810" fill="none" stroke="#666" stroke-opacity="0.7" stroke-width="0.8"/>
</g>
<use href="#outline"/>
<use href="#rough"/>
<path d="M643.4 455.2L639 460.3L634.6 465.9M620.6 488.1L616.8 494.4L613.7 500.5M608.6 524.2L608.6 537.5M490.3 522.3L493.4 527.3L495.3 531.1L496.6 534.7M502.3 570.5L501.4 576.8L499.4 583.2M608 573.7L605.2 580.6L602.3 587.6M574.4 622.2L570 627.2L565.6 632.7M477 633.5L476.6 639.2L477.6 646.8M519.4 678.5L527 676.6L533.9 674.1M653.9 420.3L652 427L650.4 434" fill="none" stroke="#3a3a3a" stroke-width="1"/>
<path d="M544.7 528.6L547.2 524.8L552.3 522.3L557.3 521.6L558.6 524.2L556.1 528L552.3 530.5L547.8 532.4L545.3 531.1Z" fill="#fff" stroke="#555" stroke-width="0.9"/>
<path d="M580.1 520.6h0M593 535.6h0M638.4 443.8h0M639 451.1h0M487.7 463.4h0M513 477.3h0M516.8 511.5h0M525.7 513.7h0M531.4 516.6h0M518.7 519.1h0M519.4 522.9h0M529.5 523.9h0M513.4 527.3h0M517.5 521h0M524.4 514.7h0M551 580.6h0M549.1 585.7h0M552.3 588.9h0M558.6 585.1h0M552.9 593.3h0M542.8 595.2h0M545.9 597.1h0M533.9 602.8h0M569.4 588.9h0M573.8 590.1h0M582 585.1h0M593.4 588.2h0M577.6 593.9h0M563.7 595.2h0M573.2 595.8h0M587.7 596.5h0M565.6 599.4h0M570 600.9h0M577.6 600.3h0M573.8 602.8h0M582.7 604.7h0M564.3 605.3h0M570.6 605.9h0M577.6 609.1h0M575.1 611h0M518.7 613.5h0M525.7 611.6h0M530.1 612.3h0M533.3 611h0M543.4 609.7h0M547.2 612h0M549.7 613.3h0M555.4 611.6h0M500.4 617.3h0M505.4 621.8h0M497.8 623.7h0M495.3 627.5h0M518.7 623.7h0M518.1 627.5h0M533.9 623.7h0M539 619.9h0M545.9 622.4h0M554.8 620.1h0M561.8 617.3h0M545.3 626.8h0M557.3 587h0M551 595.8h0M568.7 592h0M542.2 634.8h0M537.7 642.4h0M525.1 672.2h0M544.7 626.6h0M545.9 622.8h0M646.3 409.8h0M643 404.5h0M637.5 446h0M640 456h0M664.5 404.5h0M649 349.5h0M651.5 353h0M647 357h0M645 366h0M642 372h0M634 384h0M628 393h0M622 403h0" fill="none" stroke="#3a3a3a" stroke-width="1.8" stroke-linecap="round"/>
<path d="M581.4 467.8h0M552.3 599.6h0M587.7 589.2h0M528.9 650.6h0M614.8 432.5h0" fill="none" stroke="#333" stroke-width="2.6" stroke-linecap="round"/>
</g>
<g transform="translate(1026 0)">
<text x="60.5" y="448.5" font-size="23.2px">XCO<tspan font-size="15.3px" dy="3.8">2ano</tspan><tspan dy="-3.8">(ppm)</tspan></text>
<rect x="50.7" y="465.3" width="55.7" height="27.8" fill="#0000ff" stroke="#9a9a9a" stroke-width="0.6"/>
<text class="l" x="117" y="488">−1.55 − −0.57</text>
<rect x="256.2" y="465.3" width="56.7" height="27.8" fill="#cfff62" stroke="#9a9a9a" stroke-width="0.6"/>
<text class="l" x="322.5" y="488">0.73 − 1.08</text>
<rect x="50.7" y="503.2" width="55.7" height="27.8" fill="#3a5bff" stroke="#9a9a9a" stroke-width="0.6"/>
<text class="l" x="117" y="525.9">−0.56 − −0.16</text>
<rect x="256.2" y="503.2" width="56.7" height="27.8" fill="#ffff00" stroke="#9a9a9a" stroke-width="0.6"/>
<text class="l" x="322.5" y="525.9">1.09 − 1.46</text>
<rect x="50.7" y="541.1" width="55.7" height="27.8" fill="#38a8ff" stroke="#9a9a9a" stroke-width="0.6"/>
<text class="l" x="117" y="563.8">−0.15 − 0.14</text>
<rect x="256.2" y="541.1" width="56.7" height="27.8" fill="#ffb400" stroke="#9a9a9a" stroke-width="0.6"/>
<text class="l" x="322.5" y="563.8">1.47 − 1.85</text>
<rect x="50.7" y="579" width="55.7" height="27.8" fill="#00ffff" stroke="#9a9a9a" stroke-width="0.6"/>
<text class="l" x="117" y="601.7">0.15 − 0.41</text>
<rect x="256.2" y="579" width="56.7" height="27.8" fill="#ff7300" stroke="#9a9a9a" stroke-width="0.6"/>
<text class="l" x="322.5" y="601.7">1.86 − 2.28</text>
<rect x="50.7" y="616.9" width="55.7" height="27.8" fill="#96ffb0" stroke="#9a9a9a" stroke-width="0.6"/>
<text class="l" x="117" y="639.6">0.42 − 0.72</text>
<rect x="256.2" y="616.9" width="56.7" height="27.8" fill="#ff0000" stroke="#9a9a9a" stroke-width="0.6"/>
<text class="l" x="322.5" y="639.6">2.29 − 3.24</text>
<rect x="46.2" y="656.5" width="36.4" height="18" fill="#fff" stroke="#444" stroke-width="0.9"/>
<text class="l" x="89.2" y="673.4" textLength="176" lengthAdjust="spacingAndGlyphs">National boundaries</text>
<rect x="286.3" y="655.5" width="36.4" height="18.6" fill="url(#hatch)" stroke="#8a8a8a" stroke-width="0.8"/>
<text class="l" x="330.4" y="673.4" textLength="147.6" lengthAdjust="spacingAndGlyphs">Background area</text>
<rect x="581.5" y="675.2" width="164.6" height="8.2" fill="#fff" stroke="#222" stroke-width="1"/>
<rect x="581" y="674.7" width="83" height="9.2" fill="#000"/>
<text class="s" x="581.8" y="666" text-anchor="middle">0</text>
<text class="s" x="649.2" y="666" textLength="29.4" lengthAdjust="spacingAndGlyphs">750</text>
<text class="s" x="727.6" y="666" textLength="68" lengthAdjust="spacingAndGlyphs">1500 km</text>
<text class="n" x="803.9" y="61.2" text-anchor="middle">N</text>
<path d="M803.6 63.8L794.3 94.8L803.6 84.2Z" fill="#000"/>
<path d="M803.6 63.8L812.8 94.8L803.6 84.2Z" fill="#fff" stroke="#000" stroke-width="0.8" stroke-linejoin="miter"/>
<path d="M138.7 40.8v5.5M138.7 698.5v-5.5M260.5 40.8v5.5M260.5 698.5v-5.5M382.2 40.8v5.5M382.2 698.5v-5.5M504 40.8v5.5M504 698.5v-5.5M625.7 40.8v5.5M625.7 698.5v-5.5M747.5 40.8v5.5M747.5 698.5v-5.5M38.6 609h5.5M829.3 609h-5.5M38.6 487.3h5.5M829.3 487.3h-5.5M38.6 365.6h5.5M829.3 365.6h-5.5M38.6 243.9h5.5M829.3 243.9h-5.5M38.6 122.2h5.5M829.3 122.2h-5.5" fill="none" stroke="#555" stroke-width="1"/>
<path d="M39.6 42.1H828.3" fill="none" stroke="#dcdcdc" stroke-width="1.3"/>
<path d="M38.6 39.9V698.5H829.3V39.9" fill="none" stroke="#111" stroke-width="2.2" stroke-linejoin="miter"/>
<path d="M37.5 40.6H830.4" fill="none" stroke="#000" stroke-width="1.5"/>
<text class="t" transform="translate(139.2 34.9) scale(0.915 1)" text-anchor="middle">80°E</text>
<text class="t" transform="translate(139.2 725.9) scale(0.915 1)" text-anchor="middle">80°E</text>
<text class="t" transform="translate(261 34.9) scale(0.915 1)" text-anchor="middle">90°E</text>
<text class="t" transform="translate(261 725.9) scale(0.915 1)" text-anchor="middle">90°E</text>
<text class="t" transform="translate(382.7 34.9) scale(0.915 1)" text-anchor="middle">100°E</text>
<text class="t" transform="translate(382.7 725.9) scale(0.915 1)" text-anchor="middle">100°E</text>
<text class="t" transform="translate(504.5 34.9) scale(0.915 1)" text-anchor="middle">110°E</text>
<text class="t" transform="translate(504.5 725.9) scale(0.915 1)" text-anchor="middle">110°E</text>
<text class="t" transform="translate(626.2 34.9) scale(0.915 1)" text-anchor="middle">120°E</text>
<text class="t" transform="translate(626.2 725.9) scale(0.915 1)" text-anchor="middle">120°E</text>
<text class="t" transform="translate(748 34.9) scale(0.915 1)" text-anchor="middle">130°E</text>
<text class="t" transform="translate(748 725.9) scale(0.915 1)" text-anchor="middle">130°E</text>
<text class="v" transform="translate(32.8 609) rotate(-90)" text-anchor="middle">10°N</text>
<text class="v" transform="translate(855.0 609) rotate(-90)" text-anchor="middle">10°N</text>
<text class="v" transform="translate(32.8 487.3) rotate(-90)" text-anchor="middle">20°N</text>
<text class="v" transform="translate(855.0 487.3) rotate(-90)" text-anchor="middle">20°N</text>
<text class="v" transform="translate(32.8 365.6) rotate(-90)" text-anchor="middle">30°N</text>
<text class="v" transform="translate(855.0 365.6) rotate(-90)" text-anchor="middle">30°N</text>
<text class="v" transform="translate(32.8 243.9) rotate(-90)" text-anchor="middle">40°N</text>
<text class="v" transform="translate(855.0 243.9) rotate(-90)" text-anchor="middle">40°N</text>
<text class="v" transform="translate(32.8 122.2) rotate(-90)" text-anchor="middle">50°N</text>
<text class="v" transform="translate(855.0 122.2) rotate(-90)" text-anchor="middle">50°N</text>
<text class="c" x="434" y="772.7" text-anchor="middle">(<tspan font-weight="bold">h</tspan>) 2019</text>
</g>
</svg></body></html>
